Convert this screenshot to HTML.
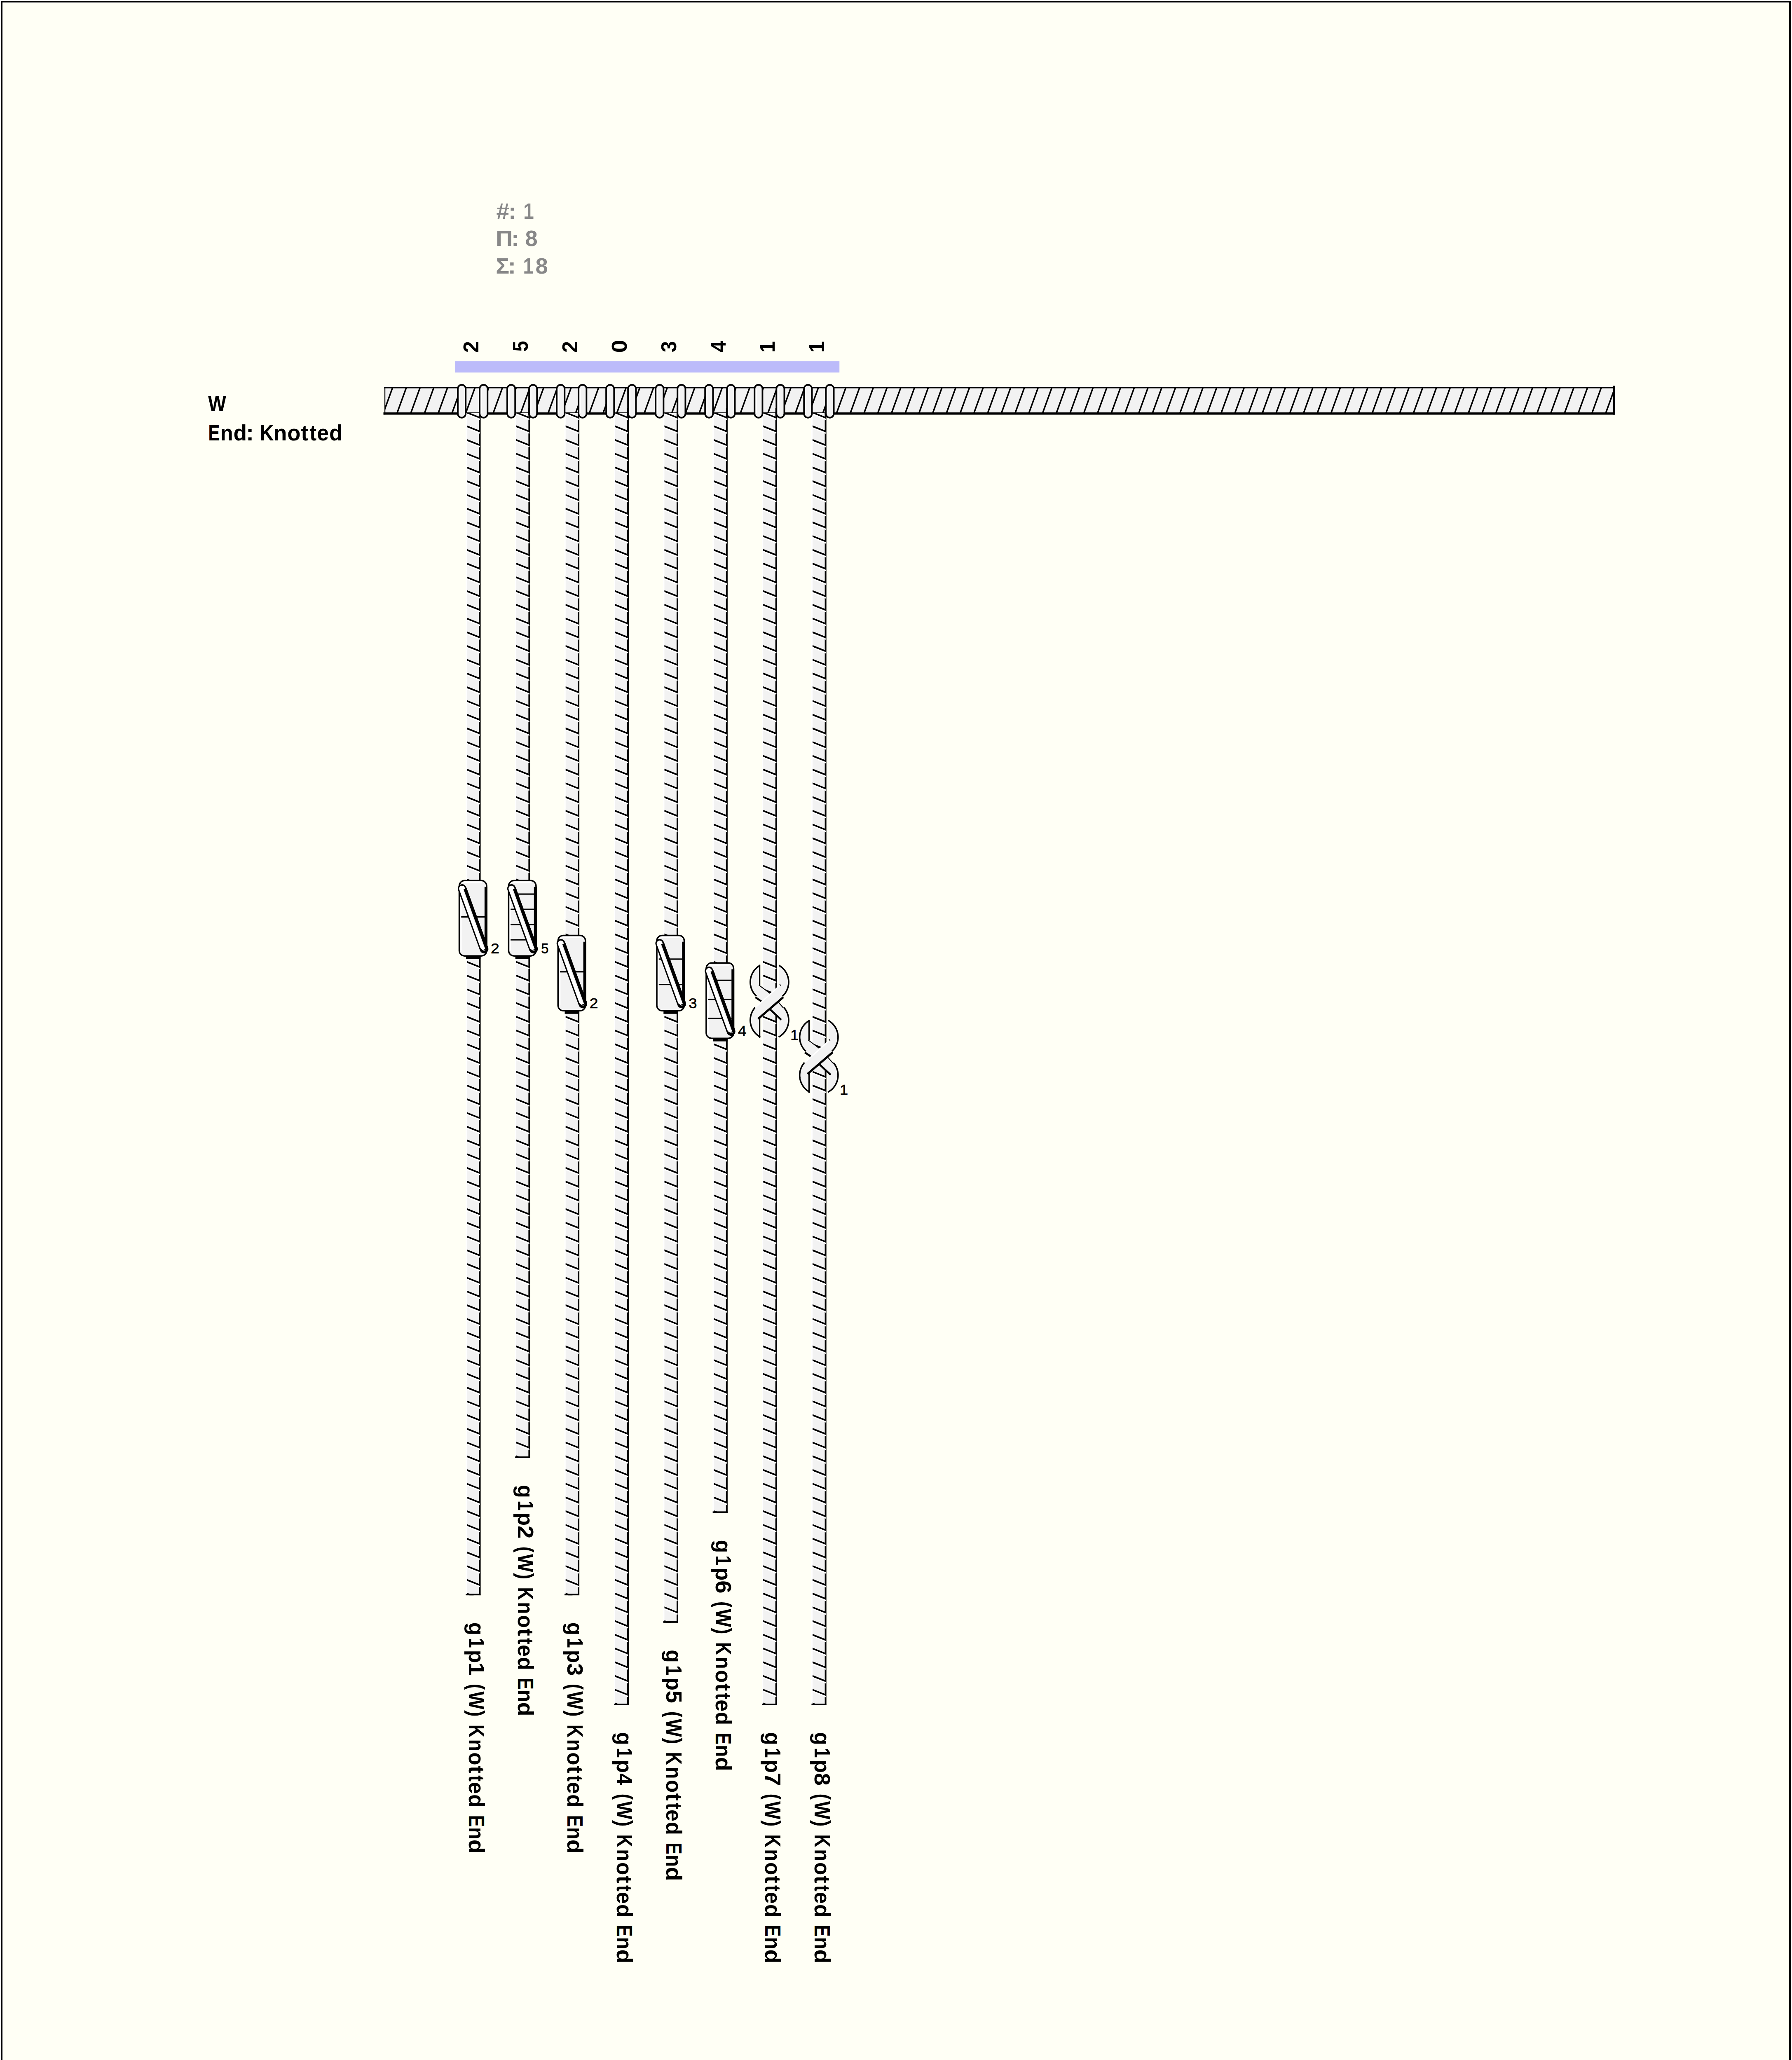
<!DOCTYPE html>
<html><head><meta charset="utf-8"><style>html,body{margin:0;padding:0;background:#fff;overflow:hidden;} svg{display:block;}</style></head>
<body><svg width="4349" height="5308" viewBox="0 0 4349 5308">
<rect x="0" y="0" width="4349" height="5308" fill="#FFFFFF"/>
<rect x="7" y="7" width="4334" height="5294" fill="#FFFFF5"/>
<rect x="4" y="4" width="4340" height="5300" fill="none" stroke="#000" stroke-width="4"/>
<g transform="translate(0,530.9)"><text transform="translate(1204.62,0) scale(1.082,1)" font-family="Liberation Sans, sans-serif" font-weight="bold" font-size="53" fill="#888888">#</text><text transform="translate(1233.87,0) scale(1.120,1)" font-family="Liberation Sans, sans-serif" font-weight="bold" font-size="53" fill="#888888">:</text><text transform="translate(1270.22,0) scale(0.864,1)" font-family="Liberation Sans, sans-serif" font-weight="bold" font-size="53" fill="#888888">1</text></g>
<g transform="translate(0,597.25)"><text transform="translate(1203.07,0) scale(1.082,1)" font-family="Liberation Sans, sans-serif" font-weight="bold" font-size="53" fill="#888888">Π</text><text transform="translate(1240.74,0) scale(1.120,1)" font-family="Liberation Sans, sans-serif" font-weight="bold" font-size="53" fill="#888888">:</text><text transform="translate(1274.52,0) scale(1.026,1)" font-family="Liberation Sans, sans-serif" font-weight="bold" font-size="53" fill="#888888">8</text></g>
<g transform="translate(0,663.75)"><text transform="translate(1203.19,0) scale(1.033,1)" font-family="Liberation Sans, sans-serif" font-weight="bold" font-size="53" fill="#888888">Σ</text><text transform="translate(1232.62,0) scale(1.120,1)" font-family="Liberation Sans, sans-serif" font-weight="bold" font-size="53" fill="#888888">:</text><text transform="translate(1269.62,0) scale(0.862,1)" font-family="Liberation Sans, sans-serif" font-weight="bold" font-size="53" fill="#888888">1</text><text transform="translate(1299.52,0) scale(1.026,1)" font-family="Liberation Sans, sans-serif" font-weight="bold" font-size="53" fill="#888888">8</text></g>
<g transform="translate(0,997.5)"><text transform="translate(504.95,0) scale(0.876,1)" font-family="Liberation Sans, sans-serif" font-weight="bold" font-size="53" fill="#000">W</text></g>
<g transform="translate(0,1068.75)"><text transform="translate(505.26,0) scale(0.800,1)" font-family="Liberation Sans, sans-serif" font-weight="bold" font-size="53" fill="#000">E</text><text transform="translate(534.77,0) scale(0.953,1)" font-family="Liberation Sans, sans-serif" font-weight="bold" font-size="53" fill="#000">n</text><text transform="translate(566.56,0) scale(1.005,1)" font-family="Liberation Sans, sans-serif" font-weight="bold" font-size="53" fill="#000">d</text><text transform="translate(596.96,0) scale(1.087,1)" font-family="Liberation Sans, sans-serif" font-weight="bold" font-size="53" fill="#000">:</text><text transform="translate(629.93,0) scale(0.895,1)" font-family="Liberation Sans, sans-serif" font-weight="bold" font-size="53" fill="#000">K</text><text transform="translate(663.32,0) scale(1.024,1)" font-family="Liberation Sans, sans-serif" font-weight="bold" font-size="53" fill="#000">n</text><text transform="translate(697.34,0) scale(0.995,1)" font-family="Liberation Sans, sans-serif" font-weight="bold" font-size="53" fill="#000">o</text><text transform="translate(730.61,0) scale(0.994,1)" font-family="Liberation Sans, sans-serif" font-weight="bold" font-size="53" fill="#000">t</text><text transform="translate(751.28,0) scale(0.954,1)" font-family="Liberation Sans, sans-serif" font-weight="bold" font-size="53" fill="#000">t</text><text transform="translate(769.23,0) scale(0.977,1)" font-family="Liberation Sans, sans-serif" font-weight="bold" font-size="53" fill="#000">e</text><text transform="translate(799.06,0) scale(1.005,1)" font-family="Liberation Sans, sans-serif" font-weight="bold" font-size="53" fill="#000">d</text></g>
<rect x="1104" y="877" width="933.25" height="27.2" fill="#BCBBFA"/>
<g transform="translate(1161.2,0) rotate(-90)"><text transform="translate(-856.00,0) scale(0.969,1)" font-family="Liberation Sans, sans-serif" font-weight="bold" font-size="52" fill="#000">2</text></g>
<g transform="translate(1281.07,0) rotate(-90)"><text transform="translate(-853.17,0) scale(0.889,1)" font-family="Liberation Sans, sans-serif" font-weight="bold" font-size="52" fill="#000">5</text></g>
<g transform="translate(1400.94,0) rotate(-90)"><text transform="translate(-856.00,0) scale(0.969,1)" font-family="Liberation Sans, sans-serif" font-weight="bold" font-size="52" fill="#000">2</text></g>
<g transform="translate(1520.81,0) rotate(-90)"><text transform="translate(-856.61,0) scale(1.100,1)" font-family="Liberation Sans, sans-serif" font-weight="bold" font-size="52" fill="#000">0</text></g>
<g transform="translate(1640.68,0) rotate(-90)"><text transform="translate(-855.13,0) scale(0.948,1)" font-family="Liberation Sans, sans-serif" font-weight="bold" font-size="52" fill="#000">3</text></g>
<g transform="translate(1760.55,0) rotate(-90)"><text transform="translate(-854.75,0) scale(0.951,1)" font-family="Liberation Sans, sans-serif" font-weight="bold" font-size="52" fill="#000">4</text></g>
<g transform="translate(1880.42,0) rotate(-90)"><text transform="translate(-855.61,0) scale(0.951,1)" font-family="Liberation Sans, sans-serif" font-weight="bold" font-size="52" fill="#000">1</text></g>
<g transform="translate(2000.29,0) rotate(-90)"><text transform="translate(-855.61,0) scale(0.951,1)" font-family="Liberation Sans, sans-serif" font-weight="bold" font-size="52" fill="#000">1</text></g>
<clipPath id="pc"><rect x="933" y="941" width="2985" height="61"/></clipPath>
<rect x="933" y="941" width="2985" height="62" fill="#F2F2F2"/>
<path clip-path="url(#pc)" d="M930.20,1003L952.70,941M963.53,1003L986.03,941M996.87,1003L1019.37,941M1030.20,1003L1052.70,941M1063.53,1003L1086.03,941M1096.87,1003L1119.37,941M1130.20,1003L1152.70,941M1163.53,1003L1186.03,941M1196.87,1003L1219.37,941M1230.20,1003L1252.70,941M1263.53,1003L1286.03,941M1296.87,1003L1319.37,941M1330.20,1003L1352.70,941M1363.53,1003L1386.03,941M1396.87,1003L1419.37,941M1430.20,1003L1452.70,941M1463.53,1003L1486.03,941M1496.87,1003L1519.37,941M1530.20,1003L1552.70,941M1563.53,1003L1586.03,941M1596.87,1003L1619.37,941M1630.20,1003L1652.70,941M1663.53,1003L1686.03,941M1696.87,1003L1719.37,941M1730.20,1003L1752.70,941M1763.53,1003L1786.03,941M1796.87,1003L1819.37,941M1830.20,1003L1852.70,941M1863.53,1003L1886.03,941M1896.87,1003L1919.37,941M1930.20,1003L1952.70,941M1963.53,1003L1986.03,941M1996.87,1003L2019.37,941M2030.20,1003L2052.70,941M2063.53,1003L2086.03,941M2096.87,1003L2119.37,941M2130.20,1003L2152.70,941M2163.53,1003L2186.03,941M2196.87,1003L2219.37,941M2230.20,1003L2252.70,941M2263.53,1003L2286.03,941M2296.87,1003L2319.37,941M2330.20,1003L2352.70,941M2363.53,1003L2386.03,941M2396.87,1003L2419.37,941M2430.20,1003L2452.70,941M2463.53,1003L2486.03,941M2496.87,1003L2519.37,941M2530.20,1003L2552.70,941M2563.53,1003L2586.03,941M2596.87,1003L2619.37,941M2630.20,1003L2652.70,941M2663.53,1003L2686.03,941M2696.87,1003L2719.37,941M2730.20,1003L2752.70,941M2763.53,1003L2786.03,941M2796.87,1003L2819.37,941M2830.20,1003L2852.70,941M2863.53,1003L2886.03,941M2896.87,1003L2919.37,941M2930.20,1003L2952.70,941M2963.53,1003L2986.03,941M2996.87,1003L3019.37,941M3030.20,1003L3052.70,941M3063.53,1003L3086.03,941M3096.87,1003L3119.37,941M3130.20,1003L3152.70,941M3163.53,1003L3186.03,941M3196.87,1003L3219.37,941M3230.20,1003L3252.70,941M3263.53,1003L3286.03,941M3296.87,1003L3319.37,941M3330.20,1003L3352.70,941M3363.53,1003L3386.03,941M3396.87,1003L3419.37,941M3430.20,1003L3452.70,941M3463.53,1003L3486.03,941M3496.87,1003L3519.37,941M3530.20,1003L3552.70,941M3563.53,1003L3586.03,941M3596.87,1003L3619.37,941M3630.20,1003L3652.70,941M3663.53,1003L3686.03,941M3696.87,1003L3719.37,941M3730.20,1003L3752.70,941M3763.53,1003L3786.03,941M3796.87,1003L3819.37,941M3830.20,1003L3852.70,941M3863.53,1003L3886.03,941M3896.87,1003L3919.37,941" stroke="#000" stroke-width="3.6" fill="none"/>
<rect x="932" y="939.4" width="2987" height="3.1" fill="#000"/>
<rect x="930.5" y="1001" width="2989.5" height="5.5" fill="#000"/>
<rect x="933" y="939.4" width="2.2" height="67" fill="#000"/>
<rect x="3915" y="936" width="5" height="70.5" fill="#000"/>
<rect x="1130.0" y="1003" width="3" height="2869.166666666667" fill="#FFFFFF"/><rect x="1133.0" y="1003" width="29.6" height="2869.166666666667" fill="#F2F2F2"/><clipPath id="cc1133"><rect x="1130.0" y="1003" width="40" height="2869.166666666667"/></clipPath><g clip-path="url(#cc1133)"><path d="M1133.00,999.20L1163.00,1011.20L1163.00,1015.30L1133.00,1003.60ZM1133.00,1032.53L1163.00,1044.53L1163.00,1048.63L1133.00,1036.93ZM1133.00,1065.87L1163.00,1077.87L1163.00,1081.97L1133.00,1070.27ZM1133.00,1099.20L1163.00,1111.20L1163.00,1115.30L1133.00,1103.60ZM1133.00,1132.53L1163.00,1144.53L1163.00,1148.63L1133.00,1136.93ZM1133.00,1165.87L1163.00,1177.87L1163.00,1181.97L1133.00,1170.27ZM1133.00,1199.20L1163.00,1211.20L1163.00,1215.30L1133.00,1203.60ZM1133.00,1232.53L1163.00,1244.53L1163.00,1248.63L1133.00,1236.93ZM1133.00,1265.87L1163.00,1277.87L1163.00,1281.97L1133.00,1270.27ZM1133.00,1299.20L1163.00,1311.20L1163.00,1315.30L1133.00,1303.60ZM1133.00,1332.53L1163.00,1344.53L1163.00,1348.63L1133.00,1336.93ZM1133.00,1365.87L1163.00,1377.87L1163.00,1381.97L1133.00,1370.27ZM1133.00,1399.20L1163.00,1411.20L1163.00,1415.30L1133.00,1403.60ZM1133.00,1432.53L1163.00,1444.53L1163.00,1448.63L1133.00,1436.93ZM1133.00,1465.87L1163.00,1477.87L1163.00,1481.97L1133.00,1470.27ZM1133.00,1499.20L1163.00,1511.20L1163.00,1515.30L1133.00,1503.60ZM1133.00,1532.53L1163.00,1544.53L1163.00,1548.63L1133.00,1536.93ZM1133.00,1565.87L1163.00,1577.87L1163.00,1581.97L1133.00,1570.27ZM1133.00,1599.20L1163.00,1611.20L1163.00,1615.30L1133.00,1603.60ZM1133.00,1632.53L1163.00,1644.53L1163.00,1648.63L1133.00,1636.93ZM1133.00,1665.87L1163.00,1677.87L1163.00,1681.97L1133.00,1670.27ZM1133.00,1699.20L1163.00,1711.20L1163.00,1715.30L1133.00,1703.60ZM1133.00,1732.53L1163.00,1744.53L1163.00,1748.63L1133.00,1736.93ZM1133.00,1765.87L1163.00,1777.87L1163.00,1781.97L1133.00,1770.27ZM1133.00,1799.20L1163.00,1811.20L1163.00,1815.30L1133.00,1803.60ZM1133.00,1832.53L1163.00,1844.53L1163.00,1848.63L1133.00,1836.93ZM1133.00,1865.87L1163.00,1877.87L1163.00,1881.97L1133.00,1870.27ZM1133.00,1899.20L1163.00,1911.20L1163.00,1915.30L1133.00,1903.60ZM1133.00,1932.53L1163.00,1944.53L1163.00,1948.63L1133.00,1936.93ZM1133.00,1965.87L1163.00,1977.87L1163.00,1981.97L1133.00,1970.27ZM1133.00,1999.20L1163.00,2011.20L1163.00,2015.30L1133.00,2003.60ZM1133.00,2032.53L1163.00,2044.53L1163.00,2048.63L1133.00,2036.93ZM1133.00,2065.87L1163.00,2077.87L1163.00,2081.97L1133.00,2070.27ZM1133.00,2099.20L1163.00,2111.20L1163.00,2115.30L1133.00,2103.60ZM1133.00,2132.53L1163.00,2144.53L1163.00,2148.63L1133.00,2136.93ZM1133.00,2165.87L1163.00,2177.87L1163.00,2181.97L1133.00,2170.27ZM1133.00,2199.20L1163.00,2211.20L1163.00,2215.30L1133.00,2203.60ZM1133.00,2232.53L1163.00,2244.53L1163.00,2248.63L1133.00,2236.93ZM1133.00,2265.87L1163.00,2277.87L1163.00,2281.97L1133.00,2270.27ZM1133.00,2299.20L1163.00,2311.20L1163.00,2315.30L1133.00,2303.60ZM1133.00,2332.53L1163.00,2344.53L1163.00,2348.63L1133.00,2336.93ZM1133.00,2365.87L1163.00,2377.87L1163.00,2381.97L1133.00,2370.27ZM1133.00,2399.20L1163.00,2411.20L1163.00,2415.30L1133.00,2403.60ZM1133.00,2432.53L1163.00,2444.53L1163.00,2448.63L1133.00,2436.93ZM1133.00,2465.87L1163.00,2477.87L1163.00,2481.97L1133.00,2470.27ZM1133.00,2499.20L1163.00,2511.20L1163.00,2515.30L1133.00,2503.60ZM1133.00,2532.53L1163.00,2544.53L1163.00,2548.63L1133.00,2536.93ZM1133.00,2565.87L1163.00,2577.87L1163.00,2581.97L1133.00,2570.27ZM1133.00,2599.20L1163.00,2611.20L1163.00,2615.30L1133.00,2603.60ZM1133.00,2632.53L1163.00,2644.53L1163.00,2648.63L1133.00,2636.93ZM1133.00,2665.87L1163.00,2677.87L1163.00,2681.97L1133.00,2670.27ZM1133.00,2699.20L1163.00,2711.20L1163.00,2715.30L1133.00,2703.60ZM1133.00,2732.53L1163.00,2744.53L1163.00,2748.63L1133.00,2736.93ZM1133.00,2765.87L1163.00,2777.87L1163.00,2781.97L1133.00,2770.27ZM1133.00,2799.20L1163.00,2811.20L1163.00,2815.30L1133.00,2803.60ZM1133.00,2832.53L1163.00,2844.53L1163.00,2848.63L1133.00,2836.93ZM1133.00,2865.87L1163.00,2877.87L1163.00,2881.97L1133.00,2870.27ZM1133.00,2899.20L1163.00,2911.20L1163.00,2915.30L1133.00,2903.60ZM1133.00,2932.53L1163.00,2944.53L1163.00,2948.63L1133.00,2936.93ZM1133.00,2965.87L1163.00,2977.87L1163.00,2981.97L1133.00,2970.27ZM1133.00,2999.20L1163.00,3011.20L1163.00,3015.30L1133.00,3003.60ZM1133.00,3032.53L1163.00,3044.53L1163.00,3048.63L1133.00,3036.93ZM1133.00,3065.87L1163.00,3077.87L1163.00,3081.97L1133.00,3070.27ZM1133.00,3099.20L1163.00,3111.20L1163.00,3115.30L1133.00,3103.60ZM1133.00,3132.53L1163.00,3144.53L1163.00,3148.63L1133.00,3136.93ZM1133.00,3165.87L1163.00,3177.87L1163.00,3181.97L1133.00,3170.27ZM1133.00,3199.20L1163.00,3211.20L1163.00,3215.30L1133.00,3203.60ZM1133.00,3232.53L1163.00,3244.53L1163.00,3248.63L1133.00,3236.93ZM1133.00,3265.87L1163.00,3277.87L1163.00,3281.97L1133.00,3270.27ZM1133.00,3299.20L1163.00,3311.20L1163.00,3315.30L1133.00,3303.60ZM1133.00,3332.53L1163.00,3344.53L1163.00,3348.63L1133.00,3336.93ZM1133.00,3365.87L1163.00,3377.87L1163.00,3381.97L1133.00,3370.27ZM1133.00,3399.20L1163.00,3411.20L1163.00,3415.30L1133.00,3403.60ZM1133.00,3432.53L1163.00,3444.53L1163.00,3448.63L1133.00,3436.93ZM1133.00,3465.87L1163.00,3477.87L1163.00,3481.97L1133.00,3470.27ZM1133.00,3499.20L1163.00,3511.20L1163.00,3515.30L1133.00,3503.60ZM1133.00,3532.53L1163.00,3544.53L1163.00,3548.63L1133.00,3536.93ZM1133.00,3565.87L1163.00,3577.87L1163.00,3581.97L1133.00,3570.27ZM1133.00,3599.20L1163.00,3611.20L1163.00,3615.30L1133.00,3603.60ZM1133.00,3632.53L1163.00,3644.53L1163.00,3648.63L1133.00,3636.93ZM1133.00,3665.87L1163.00,3677.87L1163.00,3681.97L1133.00,3670.27ZM1133.00,3699.20L1163.00,3711.20L1163.00,3715.30L1133.00,3703.60ZM1133.00,3732.53L1163.00,3744.53L1163.00,3748.63L1133.00,3736.93ZM1133.00,3765.87L1163.00,3777.87L1163.00,3781.97L1133.00,3770.27ZM1133.00,3799.20L1163.00,3811.20L1163.00,3815.30L1133.00,3803.60ZM1133.00,3832.53L1163.00,3844.53L1163.00,3848.63L1133.00,3836.93ZM1133.00,3865.87L1163.00,3877.87L1163.00,3881.97L1133.00,3870.27Z" fill="#000"/><rect x="1162.5" y="990" width="3.8" height="2882.166666666667" fill="#000"/><path d="M1133.00,1005.20L1165.10,1018.00M1133.00,1038.53L1165.10,1051.33M1133.00,1071.87L1165.10,1084.67M1133.00,1105.20L1165.10,1118.00M1133.00,1138.53L1165.10,1151.33M1133.00,1171.87L1165.10,1184.67M1133.00,1205.20L1165.10,1218.00M1133.00,1238.53L1165.10,1251.33M1133.00,1271.87L1165.10,1284.67M1133.00,1305.20L1165.10,1318.00M1133.00,1338.53L1165.10,1351.33M1133.00,1371.87L1165.10,1384.67M1133.00,1405.20L1165.10,1418.00M1133.00,1438.53L1165.10,1451.33M1133.00,1471.87L1165.10,1484.67M1133.00,1505.20L1165.10,1518.00M1133.00,1538.53L1165.10,1551.33M1133.00,1571.87L1165.10,1584.67M1133.00,1605.20L1165.10,1618.00M1133.00,1638.53L1165.10,1651.33M1133.00,1671.87L1165.10,1684.67M1133.00,1705.20L1165.10,1718.00M1133.00,1738.53L1165.10,1751.33M1133.00,1771.87L1165.10,1784.67M1133.00,1805.20L1165.10,1818.00M1133.00,1838.53L1165.10,1851.33M1133.00,1871.87L1165.10,1884.67M1133.00,1905.20L1165.10,1918.00M1133.00,1938.53L1165.10,1951.33M1133.00,1971.87L1165.10,1984.67M1133.00,2005.20L1165.10,2018.00M1133.00,2038.53L1165.10,2051.33M1133.00,2071.87L1165.10,2084.67M1133.00,2105.20L1165.10,2118.00M1133.00,2138.53L1165.10,2151.33M1133.00,2171.87L1165.10,2184.67M1133.00,2205.20L1165.10,2218.00M1133.00,2238.53L1165.10,2251.33M1133.00,2271.87L1165.10,2284.67M1133.00,2305.20L1165.10,2318.00M1133.00,2338.53L1165.10,2351.33M1133.00,2371.87L1165.10,2384.67M1133.00,2405.20L1165.10,2418.00M1133.00,2438.53L1165.10,2451.33M1133.00,2471.87L1165.10,2484.67M1133.00,2505.20L1165.10,2518.00M1133.00,2538.53L1165.10,2551.33M1133.00,2571.87L1165.10,2584.67M1133.00,2605.20L1165.10,2618.00M1133.00,2638.53L1165.10,2651.33M1133.00,2671.87L1165.10,2684.67M1133.00,2705.20L1165.10,2718.00M1133.00,2738.53L1165.10,2751.33M1133.00,2771.87L1165.10,2784.67M1133.00,2805.20L1165.10,2818.00M1133.00,2838.53L1165.10,2851.33M1133.00,2871.87L1165.10,2884.67M1133.00,2905.20L1165.10,2918.00M1133.00,2938.53L1165.10,2951.33M1133.00,2971.87L1165.10,2984.67M1133.00,3005.20L1165.10,3018.00M1133.00,3038.53L1165.10,3051.33M1133.00,3071.87L1165.10,3084.67M1133.00,3105.20L1165.10,3118.00M1133.00,3138.53L1165.10,3151.33M1133.00,3171.87L1165.10,3184.67M1133.00,3205.20L1165.10,3218.00M1133.00,3238.53L1165.10,3251.33M1133.00,3271.87L1165.10,3284.67M1133.00,3305.20L1165.10,3318.00M1133.00,3338.53L1165.10,3351.33M1133.00,3371.87L1165.10,3384.67M1133.00,3405.20L1165.10,3418.00M1133.00,3438.53L1165.10,3451.33M1133.00,3471.87L1165.10,3484.67M1133.00,3505.20L1165.10,3518.00M1133.00,3538.53L1165.10,3551.33M1133.00,3571.87L1165.10,3584.67M1133.00,3605.20L1165.10,3618.00M1133.00,3638.53L1165.10,3651.33M1133.00,3671.87L1165.10,3684.67M1133.00,3705.20L1165.10,3718.00M1133.00,3738.53L1165.10,3751.33M1133.00,3771.87L1165.10,3784.67M1133.00,3805.20L1165.10,3818.00M1133.00,3838.53L1165.10,3851.33M1133.00,3871.87L1165.10,3884.67" stroke="#FFFFFF" stroke-width="3.0" fill="none"/></g><rect x="1165.3" y="990" width="1.0" height="2882.166666666667" fill="#000"/><rect x="1162.5" y="990" width="3.8" height="14" fill="#000"/><rect x="1130.3" y="3868.366666666667" width="36.0" height="3.8" fill="#000"/>
<rect x="1249.87" y="1003" width="3" height="2535.8333333333335" fill="#FFFFFF"/><rect x="1252.87" y="1003" width="29.6" height="2535.8333333333335" fill="#F2F2F2"/><clipPath id="cc1252"><rect x="1249.87" y="1003" width="40" height="2535.8333333333335"/></clipPath><g clip-path="url(#cc1252)"><path d="M1252.87,999.20L1282.87,1011.20L1282.87,1015.30L1252.87,1003.60ZM1252.87,1032.53L1282.87,1044.53L1282.87,1048.63L1252.87,1036.93ZM1252.87,1065.87L1282.87,1077.87L1282.87,1081.97L1252.87,1070.27ZM1252.87,1099.20L1282.87,1111.20L1282.87,1115.30L1252.87,1103.60ZM1252.87,1132.53L1282.87,1144.53L1282.87,1148.63L1252.87,1136.93ZM1252.87,1165.87L1282.87,1177.87L1282.87,1181.97L1252.87,1170.27ZM1252.87,1199.20L1282.87,1211.20L1282.87,1215.30L1252.87,1203.60ZM1252.87,1232.53L1282.87,1244.53L1282.87,1248.63L1252.87,1236.93ZM1252.87,1265.87L1282.87,1277.87L1282.87,1281.97L1252.87,1270.27ZM1252.87,1299.20L1282.87,1311.20L1282.87,1315.30L1252.87,1303.60ZM1252.87,1332.53L1282.87,1344.53L1282.87,1348.63L1252.87,1336.93ZM1252.87,1365.87L1282.87,1377.87L1282.87,1381.97L1252.87,1370.27ZM1252.87,1399.20L1282.87,1411.20L1282.87,1415.30L1252.87,1403.60ZM1252.87,1432.53L1282.87,1444.53L1282.87,1448.63L1252.87,1436.93ZM1252.87,1465.87L1282.87,1477.87L1282.87,1481.97L1252.87,1470.27ZM1252.87,1499.20L1282.87,1511.20L1282.87,1515.30L1252.87,1503.60ZM1252.87,1532.53L1282.87,1544.53L1282.87,1548.63L1252.87,1536.93ZM1252.87,1565.87L1282.87,1577.87L1282.87,1581.97L1252.87,1570.27ZM1252.87,1599.20L1282.87,1611.20L1282.87,1615.30L1252.87,1603.60ZM1252.87,1632.53L1282.87,1644.53L1282.87,1648.63L1252.87,1636.93ZM1252.87,1665.87L1282.87,1677.87L1282.87,1681.97L1252.87,1670.27ZM1252.87,1699.20L1282.87,1711.20L1282.87,1715.30L1252.87,1703.60ZM1252.87,1732.53L1282.87,1744.53L1282.87,1748.63L1252.87,1736.93ZM1252.87,1765.87L1282.87,1777.87L1282.87,1781.97L1252.87,1770.27ZM1252.87,1799.20L1282.87,1811.20L1282.87,1815.30L1252.87,1803.60ZM1252.87,1832.53L1282.87,1844.53L1282.87,1848.63L1252.87,1836.93ZM1252.87,1865.87L1282.87,1877.87L1282.87,1881.97L1252.87,1870.27ZM1252.87,1899.20L1282.87,1911.20L1282.87,1915.30L1252.87,1903.60ZM1252.87,1932.53L1282.87,1944.53L1282.87,1948.63L1252.87,1936.93ZM1252.87,1965.87L1282.87,1977.87L1282.87,1981.97L1252.87,1970.27ZM1252.87,1999.20L1282.87,2011.20L1282.87,2015.30L1252.87,2003.60ZM1252.87,2032.53L1282.87,2044.53L1282.87,2048.63L1252.87,2036.93ZM1252.87,2065.87L1282.87,2077.87L1282.87,2081.97L1252.87,2070.27ZM1252.87,2099.20L1282.87,2111.20L1282.87,2115.30L1252.87,2103.60ZM1252.87,2132.53L1282.87,2144.53L1282.87,2148.63L1252.87,2136.93ZM1252.87,2165.87L1282.87,2177.87L1282.87,2181.97L1252.87,2170.27ZM1252.87,2199.20L1282.87,2211.20L1282.87,2215.30L1252.87,2203.60ZM1252.87,2232.53L1282.87,2244.53L1282.87,2248.63L1252.87,2236.93ZM1252.87,2265.87L1282.87,2277.87L1282.87,2281.97L1252.87,2270.27ZM1252.87,2299.20L1282.87,2311.20L1282.87,2315.30L1252.87,2303.60ZM1252.87,2332.53L1282.87,2344.53L1282.87,2348.63L1252.87,2336.93ZM1252.87,2365.87L1282.87,2377.87L1282.87,2381.97L1252.87,2370.27ZM1252.87,2399.20L1282.87,2411.20L1282.87,2415.30L1252.87,2403.60ZM1252.87,2432.53L1282.87,2444.53L1282.87,2448.63L1252.87,2436.93ZM1252.87,2465.87L1282.87,2477.87L1282.87,2481.97L1252.87,2470.27ZM1252.87,2499.20L1282.87,2511.20L1282.87,2515.30L1252.87,2503.60ZM1252.87,2532.53L1282.87,2544.53L1282.87,2548.63L1252.87,2536.93ZM1252.87,2565.87L1282.87,2577.87L1282.87,2581.97L1252.87,2570.27ZM1252.87,2599.20L1282.87,2611.20L1282.87,2615.30L1252.87,2603.60ZM1252.87,2632.53L1282.87,2644.53L1282.87,2648.63L1252.87,2636.93ZM1252.87,2665.87L1282.87,2677.87L1282.87,2681.97L1252.87,2670.27ZM1252.87,2699.20L1282.87,2711.20L1282.87,2715.30L1252.87,2703.60ZM1252.87,2732.53L1282.87,2744.53L1282.87,2748.63L1252.87,2736.93ZM1252.87,2765.87L1282.87,2777.87L1282.87,2781.97L1252.87,2770.27ZM1252.87,2799.20L1282.87,2811.20L1282.87,2815.30L1252.87,2803.60ZM1252.87,2832.53L1282.87,2844.53L1282.87,2848.63L1252.87,2836.93ZM1252.87,2865.87L1282.87,2877.87L1282.87,2881.97L1252.87,2870.27ZM1252.87,2899.20L1282.87,2911.20L1282.87,2915.30L1252.87,2903.60ZM1252.87,2932.53L1282.87,2944.53L1282.87,2948.63L1252.87,2936.93ZM1252.87,2965.87L1282.87,2977.87L1282.87,2981.97L1252.87,2970.27ZM1252.87,2999.20L1282.87,3011.20L1282.87,3015.30L1252.87,3003.60ZM1252.87,3032.53L1282.87,3044.53L1282.87,3048.63L1252.87,3036.93ZM1252.87,3065.87L1282.87,3077.87L1282.87,3081.97L1252.87,3070.27ZM1252.87,3099.20L1282.87,3111.20L1282.87,3115.30L1252.87,3103.60ZM1252.87,3132.53L1282.87,3144.53L1282.87,3148.63L1252.87,3136.93ZM1252.87,3165.87L1282.87,3177.87L1282.87,3181.97L1252.87,3170.27ZM1252.87,3199.20L1282.87,3211.20L1282.87,3215.30L1252.87,3203.60ZM1252.87,3232.53L1282.87,3244.53L1282.87,3248.63L1252.87,3236.93ZM1252.87,3265.87L1282.87,3277.87L1282.87,3281.97L1252.87,3270.27ZM1252.87,3299.20L1282.87,3311.20L1282.87,3315.30L1252.87,3303.60ZM1252.87,3332.53L1282.87,3344.53L1282.87,3348.63L1252.87,3336.93ZM1252.87,3365.87L1282.87,3377.87L1282.87,3381.97L1252.87,3370.27ZM1252.87,3399.20L1282.87,3411.20L1282.87,3415.30L1252.87,3403.60ZM1252.87,3432.53L1282.87,3444.53L1282.87,3448.63L1252.87,3436.93ZM1252.87,3465.87L1282.87,3477.87L1282.87,3481.97L1252.87,3470.27ZM1252.87,3499.20L1282.87,3511.20L1282.87,3515.30L1252.87,3503.60ZM1252.87,3532.53L1282.87,3544.53L1282.87,3548.63L1252.87,3536.93Z" fill="#000"/><rect x="1282.37" y="990" width="3.8" height="2548.8333333333335" fill="#000"/><path d="M1252.87,1005.20L1284.97,1018.00M1252.87,1038.53L1284.97,1051.33M1252.87,1071.87L1284.97,1084.67M1252.87,1105.20L1284.97,1118.00M1252.87,1138.53L1284.97,1151.33M1252.87,1171.87L1284.97,1184.67M1252.87,1205.20L1284.97,1218.00M1252.87,1238.53L1284.97,1251.33M1252.87,1271.87L1284.97,1284.67M1252.87,1305.20L1284.97,1318.00M1252.87,1338.53L1284.97,1351.33M1252.87,1371.87L1284.97,1384.67M1252.87,1405.20L1284.97,1418.00M1252.87,1438.53L1284.97,1451.33M1252.87,1471.87L1284.97,1484.67M1252.87,1505.20L1284.97,1518.00M1252.87,1538.53L1284.97,1551.33M1252.87,1571.87L1284.97,1584.67M1252.87,1605.20L1284.97,1618.00M1252.87,1638.53L1284.97,1651.33M1252.87,1671.87L1284.97,1684.67M1252.87,1705.20L1284.97,1718.00M1252.87,1738.53L1284.97,1751.33M1252.87,1771.87L1284.97,1784.67M1252.87,1805.20L1284.97,1818.00M1252.87,1838.53L1284.97,1851.33M1252.87,1871.87L1284.97,1884.67M1252.87,1905.20L1284.97,1918.00M1252.87,1938.53L1284.97,1951.33M1252.87,1971.87L1284.97,1984.67M1252.87,2005.20L1284.97,2018.00M1252.87,2038.53L1284.97,2051.33M1252.87,2071.87L1284.97,2084.67M1252.87,2105.20L1284.97,2118.00M1252.87,2138.53L1284.97,2151.33M1252.87,2171.87L1284.97,2184.67M1252.87,2205.20L1284.97,2218.00M1252.87,2238.53L1284.97,2251.33M1252.87,2271.87L1284.97,2284.67M1252.87,2305.20L1284.97,2318.00M1252.87,2338.53L1284.97,2351.33M1252.87,2371.87L1284.97,2384.67M1252.87,2405.20L1284.97,2418.00M1252.87,2438.53L1284.97,2451.33M1252.87,2471.87L1284.97,2484.67M1252.87,2505.20L1284.97,2518.00M1252.87,2538.53L1284.97,2551.33M1252.87,2571.87L1284.97,2584.67M1252.87,2605.20L1284.97,2618.00M1252.87,2638.53L1284.97,2651.33M1252.87,2671.87L1284.97,2684.67M1252.87,2705.20L1284.97,2718.00M1252.87,2738.53L1284.97,2751.33M1252.87,2771.87L1284.97,2784.67M1252.87,2805.20L1284.97,2818.00M1252.87,2838.53L1284.97,2851.33M1252.87,2871.87L1284.97,2884.67M1252.87,2905.20L1284.97,2918.00M1252.87,2938.53L1284.97,2951.33M1252.87,2971.87L1284.97,2984.67M1252.87,3005.20L1284.97,3018.00M1252.87,3038.53L1284.97,3051.33M1252.87,3071.87L1284.97,3084.67M1252.87,3105.20L1284.97,3118.00M1252.87,3138.53L1284.97,3151.33M1252.87,3171.87L1284.97,3184.67M1252.87,3205.20L1284.97,3218.00M1252.87,3238.53L1284.97,3251.33M1252.87,3271.87L1284.97,3284.67M1252.87,3305.20L1284.97,3318.00M1252.87,3338.53L1284.97,3351.33M1252.87,3371.87L1284.97,3384.67M1252.87,3405.20L1284.97,3418.00M1252.87,3438.53L1284.97,3451.33M1252.87,3471.87L1284.97,3484.67M1252.87,3505.20L1284.97,3518.00M1252.87,3538.53L1284.97,3551.33" stroke="#FFFFFF" stroke-width="3.0" fill="none"/></g><rect x="1285.1699999999998" y="990" width="1.0" height="2548.8333333333335" fill="#000"/><rect x="1282.37" y="990" width="3.8" height="14" fill="#000"/><rect x="1250.1699999999998" y="3535.0333333333333" width="36.0" height="3.8" fill="#000"/>
<rect x="1369.74" y="1003" width="3" height="2869.166666666667" fill="#FFFFFF"/><rect x="1372.74" y="1003" width="29.6" height="2869.166666666667" fill="#F2F2F2"/><clipPath id="cc1372"><rect x="1369.74" y="1003" width="40" height="2869.166666666667"/></clipPath><g clip-path="url(#cc1372)"><path d="M1372.74,999.20L1402.74,1011.20L1402.74,1015.30L1372.74,1003.60ZM1372.74,1032.53L1402.74,1044.53L1402.74,1048.63L1372.74,1036.93ZM1372.74,1065.87L1402.74,1077.87L1402.74,1081.97L1372.74,1070.27ZM1372.74,1099.20L1402.74,1111.20L1402.74,1115.30L1372.74,1103.60ZM1372.74,1132.53L1402.74,1144.53L1402.74,1148.63L1372.74,1136.93ZM1372.74,1165.87L1402.74,1177.87L1402.74,1181.97L1372.74,1170.27ZM1372.74,1199.20L1402.74,1211.20L1402.74,1215.30L1372.74,1203.60ZM1372.74,1232.53L1402.74,1244.53L1402.74,1248.63L1372.74,1236.93ZM1372.74,1265.87L1402.74,1277.87L1402.74,1281.97L1372.74,1270.27ZM1372.74,1299.20L1402.74,1311.20L1402.74,1315.30L1372.74,1303.60ZM1372.74,1332.53L1402.74,1344.53L1402.74,1348.63L1372.74,1336.93ZM1372.74,1365.87L1402.74,1377.87L1402.74,1381.97L1372.74,1370.27ZM1372.74,1399.20L1402.74,1411.20L1402.74,1415.30L1372.74,1403.60ZM1372.74,1432.53L1402.74,1444.53L1402.74,1448.63L1372.74,1436.93ZM1372.74,1465.87L1402.74,1477.87L1402.74,1481.97L1372.74,1470.27ZM1372.74,1499.20L1402.74,1511.20L1402.74,1515.30L1372.74,1503.60ZM1372.74,1532.53L1402.74,1544.53L1402.74,1548.63L1372.74,1536.93ZM1372.74,1565.87L1402.74,1577.87L1402.74,1581.97L1372.74,1570.27ZM1372.74,1599.20L1402.74,1611.20L1402.74,1615.30L1372.74,1603.60ZM1372.74,1632.53L1402.74,1644.53L1402.74,1648.63L1372.74,1636.93ZM1372.74,1665.87L1402.74,1677.87L1402.74,1681.97L1372.74,1670.27ZM1372.74,1699.20L1402.74,1711.20L1402.74,1715.30L1372.74,1703.60ZM1372.74,1732.53L1402.74,1744.53L1402.74,1748.63L1372.74,1736.93ZM1372.74,1765.87L1402.74,1777.87L1402.74,1781.97L1372.74,1770.27ZM1372.74,1799.20L1402.74,1811.20L1402.74,1815.30L1372.74,1803.60ZM1372.74,1832.53L1402.74,1844.53L1402.74,1848.63L1372.74,1836.93ZM1372.74,1865.87L1402.74,1877.87L1402.74,1881.97L1372.74,1870.27ZM1372.74,1899.20L1402.74,1911.20L1402.74,1915.30L1372.74,1903.60ZM1372.74,1932.53L1402.74,1944.53L1402.74,1948.63L1372.74,1936.93ZM1372.74,1965.87L1402.74,1977.87L1402.74,1981.97L1372.74,1970.27ZM1372.74,1999.20L1402.74,2011.20L1402.74,2015.30L1372.74,2003.60ZM1372.74,2032.53L1402.74,2044.53L1402.74,2048.63L1372.74,2036.93ZM1372.74,2065.87L1402.74,2077.87L1402.74,2081.97L1372.74,2070.27ZM1372.74,2099.20L1402.74,2111.20L1402.74,2115.30L1372.74,2103.60ZM1372.74,2132.53L1402.74,2144.53L1402.74,2148.63L1372.74,2136.93ZM1372.74,2165.87L1402.74,2177.87L1402.74,2181.97L1372.74,2170.27ZM1372.74,2199.20L1402.74,2211.20L1402.74,2215.30L1372.74,2203.60ZM1372.74,2232.53L1402.74,2244.53L1402.74,2248.63L1372.74,2236.93ZM1372.74,2265.87L1402.74,2277.87L1402.74,2281.97L1372.74,2270.27ZM1372.74,2299.20L1402.74,2311.20L1402.74,2315.30L1372.74,2303.60ZM1372.74,2332.53L1402.74,2344.53L1402.74,2348.63L1372.74,2336.93ZM1372.74,2365.87L1402.74,2377.87L1402.74,2381.97L1372.74,2370.27ZM1372.74,2399.20L1402.74,2411.20L1402.74,2415.30L1372.74,2403.60ZM1372.74,2432.53L1402.74,2444.53L1402.74,2448.63L1372.74,2436.93ZM1372.74,2465.87L1402.74,2477.87L1402.74,2481.97L1372.74,2470.27ZM1372.74,2499.20L1402.74,2511.20L1402.74,2515.30L1372.74,2503.60ZM1372.74,2532.53L1402.74,2544.53L1402.74,2548.63L1372.74,2536.93ZM1372.74,2565.87L1402.74,2577.87L1402.74,2581.97L1372.74,2570.27ZM1372.74,2599.20L1402.74,2611.20L1402.74,2615.30L1372.74,2603.60ZM1372.74,2632.53L1402.74,2644.53L1402.74,2648.63L1372.74,2636.93ZM1372.74,2665.87L1402.74,2677.87L1402.74,2681.97L1372.74,2670.27ZM1372.74,2699.20L1402.74,2711.20L1402.74,2715.30L1372.74,2703.60ZM1372.74,2732.53L1402.74,2744.53L1402.74,2748.63L1372.74,2736.93ZM1372.74,2765.87L1402.74,2777.87L1402.74,2781.97L1372.74,2770.27ZM1372.74,2799.20L1402.74,2811.20L1402.74,2815.30L1372.74,2803.60ZM1372.74,2832.53L1402.74,2844.53L1402.74,2848.63L1372.74,2836.93ZM1372.74,2865.87L1402.74,2877.87L1402.74,2881.97L1372.74,2870.27ZM1372.74,2899.20L1402.74,2911.20L1402.74,2915.30L1372.74,2903.60ZM1372.74,2932.53L1402.74,2944.53L1402.74,2948.63L1372.74,2936.93ZM1372.74,2965.87L1402.74,2977.87L1402.74,2981.97L1372.74,2970.27ZM1372.74,2999.20L1402.74,3011.20L1402.74,3015.30L1372.74,3003.60ZM1372.74,3032.53L1402.74,3044.53L1402.74,3048.63L1372.74,3036.93ZM1372.74,3065.87L1402.74,3077.87L1402.74,3081.97L1372.74,3070.27ZM1372.74,3099.20L1402.74,3111.20L1402.74,3115.30L1372.74,3103.60ZM1372.74,3132.53L1402.74,3144.53L1402.74,3148.63L1372.74,3136.93ZM1372.74,3165.87L1402.74,3177.87L1402.74,3181.97L1372.74,3170.27ZM1372.74,3199.20L1402.74,3211.20L1402.74,3215.30L1372.74,3203.60ZM1372.74,3232.53L1402.74,3244.53L1402.74,3248.63L1372.74,3236.93ZM1372.74,3265.87L1402.74,3277.87L1402.74,3281.97L1372.74,3270.27ZM1372.74,3299.20L1402.74,3311.20L1402.74,3315.30L1372.74,3303.60ZM1372.74,3332.53L1402.74,3344.53L1402.74,3348.63L1372.74,3336.93ZM1372.74,3365.87L1402.74,3377.87L1402.74,3381.97L1372.74,3370.27ZM1372.74,3399.20L1402.74,3411.20L1402.74,3415.30L1372.74,3403.60ZM1372.74,3432.53L1402.74,3444.53L1402.74,3448.63L1372.74,3436.93ZM1372.74,3465.87L1402.74,3477.87L1402.74,3481.97L1372.74,3470.27ZM1372.74,3499.20L1402.74,3511.20L1402.74,3515.30L1372.74,3503.60ZM1372.74,3532.53L1402.74,3544.53L1402.74,3548.63L1372.74,3536.93ZM1372.74,3565.87L1402.74,3577.87L1402.74,3581.97L1372.74,3570.27ZM1372.74,3599.20L1402.74,3611.20L1402.74,3615.30L1372.74,3603.60ZM1372.74,3632.53L1402.74,3644.53L1402.74,3648.63L1372.74,3636.93ZM1372.74,3665.87L1402.74,3677.87L1402.74,3681.97L1372.74,3670.27ZM1372.74,3699.20L1402.74,3711.20L1402.74,3715.30L1372.74,3703.60ZM1372.74,3732.53L1402.74,3744.53L1402.74,3748.63L1372.74,3736.93ZM1372.74,3765.87L1402.74,3777.87L1402.74,3781.97L1372.74,3770.27ZM1372.74,3799.20L1402.74,3811.20L1402.74,3815.30L1372.74,3803.60ZM1372.74,3832.53L1402.74,3844.53L1402.74,3848.63L1372.74,3836.93ZM1372.74,3865.87L1402.74,3877.87L1402.74,3881.97L1372.74,3870.27Z" fill="#000"/><rect x="1402.24" y="990" width="3.8" height="2882.166666666667" fill="#000"/><path d="M1372.74,1005.20L1404.84,1018.00M1372.74,1038.53L1404.84,1051.33M1372.74,1071.87L1404.84,1084.67M1372.74,1105.20L1404.84,1118.00M1372.74,1138.53L1404.84,1151.33M1372.74,1171.87L1404.84,1184.67M1372.74,1205.20L1404.84,1218.00M1372.74,1238.53L1404.84,1251.33M1372.74,1271.87L1404.84,1284.67M1372.74,1305.20L1404.84,1318.00M1372.74,1338.53L1404.84,1351.33M1372.74,1371.87L1404.84,1384.67M1372.74,1405.20L1404.84,1418.00M1372.74,1438.53L1404.84,1451.33M1372.74,1471.87L1404.84,1484.67M1372.74,1505.20L1404.84,1518.00M1372.74,1538.53L1404.84,1551.33M1372.74,1571.87L1404.84,1584.67M1372.74,1605.20L1404.84,1618.00M1372.74,1638.53L1404.84,1651.33M1372.74,1671.87L1404.84,1684.67M1372.74,1705.20L1404.84,1718.00M1372.74,1738.53L1404.84,1751.33M1372.74,1771.87L1404.84,1784.67M1372.74,1805.20L1404.84,1818.00M1372.74,1838.53L1404.84,1851.33M1372.74,1871.87L1404.84,1884.67M1372.74,1905.20L1404.84,1918.00M1372.74,1938.53L1404.84,1951.33M1372.74,1971.87L1404.84,1984.67M1372.74,2005.20L1404.84,2018.00M1372.74,2038.53L1404.84,2051.33M1372.74,2071.87L1404.84,2084.67M1372.74,2105.20L1404.84,2118.00M1372.74,2138.53L1404.84,2151.33M1372.74,2171.87L1404.84,2184.67M1372.74,2205.20L1404.84,2218.00M1372.74,2238.53L1404.84,2251.33M1372.74,2271.87L1404.84,2284.67M1372.74,2305.20L1404.84,2318.00M1372.74,2338.53L1404.84,2351.33M1372.74,2371.87L1404.84,2384.67M1372.74,2405.20L1404.84,2418.00M1372.74,2438.53L1404.84,2451.33M1372.74,2471.87L1404.84,2484.67M1372.74,2505.20L1404.84,2518.00M1372.74,2538.53L1404.84,2551.33M1372.74,2571.87L1404.84,2584.67M1372.74,2605.20L1404.84,2618.00M1372.74,2638.53L1404.84,2651.33M1372.74,2671.87L1404.84,2684.67M1372.74,2705.20L1404.84,2718.00M1372.74,2738.53L1404.84,2751.33M1372.74,2771.87L1404.84,2784.67M1372.74,2805.20L1404.84,2818.00M1372.74,2838.53L1404.84,2851.33M1372.74,2871.87L1404.84,2884.67M1372.74,2905.20L1404.84,2918.00M1372.74,2938.53L1404.84,2951.33M1372.74,2971.87L1404.84,2984.67M1372.74,3005.20L1404.84,3018.00M1372.74,3038.53L1404.84,3051.33M1372.74,3071.87L1404.84,3084.67M1372.74,3105.20L1404.84,3118.00M1372.74,3138.53L1404.84,3151.33M1372.74,3171.87L1404.84,3184.67M1372.74,3205.20L1404.84,3218.00M1372.74,3238.53L1404.84,3251.33M1372.74,3271.87L1404.84,3284.67M1372.74,3305.20L1404.84,3318.00M1372.74,3338.53L1404.84,3351.33M1372.74,3371.87L1404.84,3384.67M1372.74,3405.20L1404.84,3418.00M1372.74,3438.53L1404.84,3451.33M1372.74,3471.87L1404.84,3484.67M1372.74,3505.20L1404.84,3518.00M1372.74,3538.53L1404.84,3551.33M1372.74,3571.87L1404.84,3584.67M1372.74,3605.20L1404.84,3618.00M1372.74,3638.53L1404.84,3651.33M1372.74,3671.87L1404.84,3684.67M1372.74,3705.20L1404.84,3718.00M1372.74,3738.53L1404.84,3751.33M1372.74,3771.87L1404.84,3784.67M1372.74,3805.20L1404.84,3818.00M1372.74,3838.53L1404.84,3851.33M1372.74,3871.87L1404.84,3884.67" stroke="#FFFFFF" stroke-width="3.0" fill="none"/></g><rect x="1405.04" y="990" width="1.0" height="2882.166666666667" fill="#000"/><rect x="1402.24" y="990" width="3.8" height="14" fill="#000"/><rect x="1370.04" y="3868.366666666667" width="36.0" height="3.8" fill="#000"/>
<rect x="1489.61" y="1003" width="3" height="3135.833333333334" fill="#FFFFFF"/><rect x="1492.61" y="1003" width="29.6" height="3135.833333333334" fill="#F2F2F2"/><clipPath id="cc1492"><rect x="1489.61" y="1003" width="40" height="3135.833333333334"/></clipPath><g clip-path="url(#cc1492)"><path d="M1492.61,999.20L1522.61,1011.20L1522.61,1015.30L1492.61,1003.60ZM1492.61,1032.53L1522.61,1044.53L1522.61,1048.63L1492.61,1036.93ZM1492.61,1065.87L1522.61,1077.87L1522.61,1081.97L1492.61,1070.27ZM1492.61,1099.20L1522.61,1111.20L1522.61,1115.30L1492.61,1103.60ZM1492.61,1132.53L1522.61,1144.53L1522.61,1148.63L1492.61,1136.93ZM1492.61,1165.87L1522.61,1177.87L1522.61,1181.97L1492.61,1170.27ZM1492.61,1199.20L1522.61,1211.20L1522.61,1215.30L1492.61,1203.60ZM1492.61,1232.53L1522.61,1244.53L1522.61,1248.63L1492.61,1236.93ZM1492.61,1265.87L1522.61,1277.87L1522.61,1281.97L1492.61,1270.27ZM1492.61,1299.20L1522.61,1311.20L1522.61,1315.30L1492.61,1303.60ZM1492.61,1332.53L1522.61,1344.53L1522.61,1348.63L1492.61,1336.93ZM1492.61,1365.87L1522.61,1377.87L1522.61,1381.97L1492.61,1370.27ZM1492.61,1399.20L1522.61,1411.20L1522.61,1415.30L1492.61,1403.60ZM1492.61,1432.53L1522.61,1444.53L1522.61,1448.63L1492.61,1436.93ZM1492.61,1465.87L1522.61,1477.87L1522.61,1481.97L1492.61,1470.27ZM1492.61,1499.20L1522.61,1511.20L1522.61,1515.30L1492.61,1503.60ZM1492.61,1532.53L1522.61,1544.53L1522.61,1548.63L1492.61,1536.93ZM1492.61,1565.87L1522.61,1577.87L1522.61,1581.97L1492.61,1570.27ZM1492.61,1599.20L1522.61,1611.20L1522.61,1615.30L1492.61,1603.60ZM1492.61,1632.53L1522.61,1644.53L1522.61,1648.63L1492.61,1636.93ZM1492.61,1665.87L1522.61,1677.87L1522.61,1681.97L1492.61,1670.27ZM1492.61,1699.20L1522.61,1711.20L1522.61,1715.30L1492.61,1703.60ZM1492.61,1732.53L1522.61,1744.53L1522.61,1748.63L1492.61,1736.93ZM1492.61,1765.87L1522.61,1777.87L1522.61,1781.97L1492.61,1770.27ZM1492.61,1799.20L1522.61,1811.20L1522.61,1815.30L1492.61,1803.60ZM1492.61,1832.53L1522.61,1844.53L1522.61,1848.63L1492.61,1836.93ZM1492.61,1865.87L1522.61,1877.87L1522.61,1881.97L1492.61,1870.27ZM1492.61,1899.20L1522.61,1911.20L1522.61,1915.30L1492.61,1903.60ZM1492.61,1932.53L1522.61,1944.53L1522.61,1948.63L1492.61,1936.93ZM1492.61,1965.87L1522.61,1977.87L1522.61,1981.97L1492.61,1970.27ZM1492.61,1999.20L1522.61,2011.20L1522.61,2015.30L1492.61,2003.60ZM1492.61,2032.53L1522.61,2044.53L1522.61,2048.63L1492.61,2036.93ZM1492.61,2065.87L1522.61,2077.87L1522.61,2081.97L1492.61,2070.27ZM1492.61,2099.20L1522.61,2111.20L1522.61,2115.30L1492.61,2103.60ZM1492.61,2132.53L1522.61,2144.53L1522.61,2148.63L1492.61,2136.93ZM1492.61,2165.87L1522.61,2177.87L1522.61,2181.97L1492.61,2170.27ZM1492.61,2199.20L1522.61,2211.20L1522.61,2215.30L1492.61,2203.60ZM1492.61,2232.53L1522.61,2244.53L1522.61,2248.63L1492.61,2236.93ZM1492.61,2265.87L1522.61,2277.87L1522.61,2281.97L1492.61,2270.27ZM1492.61,2299.20L1522.61,2311.20L1522.61,2315.30L1492.61,2303.60ZM1492.61,2332.53L1522.61,2344.53L1522.61,2348.63L1492.61,2336.93ZM1492.61,2365.87L1522.61,2377.87L1522.61,2381.97L1492.61,2370.27ZM1492.61,2399.20L1522.61,2411.20L1522.61,2415.30L1492.61,2403.60ZM1492.61,2432.53L1522.61,2444.53L1522.61,2448.63L1492.61,2436.93ZM1492.61,2465.87L1522.61,2477.87L1522.61,2481.97L1492.61,2470.27ZM1492.61,2499.20L1522.61,2511.20L1522.61,2515.30L1492.61,2503.60ZM1492.61,2532.53L1522.61,2544.53L1522.61,2548.63L1492.61,2536.93ZM1492.61,2565.87L1522.61,2577.87L1522.61,2581.97L1492.61,2570.27ZM1492.61,2599.20L1522.61,2611.20L1522.61,2615.30L1492.61,2603.60ZM1492.61,2632.53L1522.61,2644.53L1522.61,2648.63L1492.61,2636.93ZM1492.61,2665.87L1522.61,2677.87L1522.61,2681.97L1492.61,2670.27ZM1492.61,2699.20L1522.61,2711.20L1522.61,2715.30L1492.61,2703.60ZM1492.61,2732.53L1522.61,2744.53L1522.61,2748.63L1492.61,2736.93ZM1492.61,2765.87L1522.61,2777.87L1522.61,2781.97L1492.61,2770.27ZM1492.61,2799.20L1522.61,2811.20L1522.61,2815.30L1492.61,2803.60ZM1492.61,2832.53L1522.61,2844.53L1522.61,2848.63L1492.61,2836.93ZM1492.61,2865.87L1522.61,2877.87L1522.61,2881.97L1492.61,2870.27ZM1492.61,2899.20L1522.61,2911.20L1522.61,2915.30L1492.61,2903.60ZM1492.61,2932.53L1522.61,2944.53L1522.61,2948.63L1492.61,2936.93ZM1492.61,2965.87L1522.61,2977.87L1522.61,2981.97L1492.61,2970.27ZM1492.61,2999.20L1522.61,3011.20L1522.61,3015.30L1492.61,3003.60ZM1492.61,3032.53L1522.61,3044.53L1522.61,3048.63L1492.61,3036.93ZM1492.61,3065.87L1522.61,3077.87L1522.61,3081.97L1492.61,3070.27ZM1492.61,3099.20L1522.61,3111.20L1522.61,3115.30L1492.61,3103.60ZM1492.61,3132.53L1522.61,3144.53L1522.61,3148.63L1492.61,3136.93ZM1492.61,3165.87L1522.61,3177.87L1522.61,3181.97L1492.61,3170.27ZM1492.61,3199.20L1522.61,3211.20L1522.61,3215.30L1492.61,3203.60ZM1492.61,3232.53L1522.61,3244.53L1522.61,3248.63L1492.61,3236.93ZM1492.61,3265.87L1522.61,3277.87L1522.61,3281.97L1492.61,3270.27ZM1492.61,3299.20L1522.61,3311.20L1522.61,3315.30L1492.61,3303.60ZM1492.61,3332.53L1522.61,3344.53L1522.61,3348.63L1492.61,3336.93ZM1492.61,3365.87L1522.61,3377.87L1522.61,3381.97L1492.61,3370.27ZM1492.61,3399.20L1522.61,3411.20L1522.61,3415.30L1492.61,3403.60ZM1492.61,3432.53L1522.61,3444.53L1522.61,3448.63L1492.61,3436.93ZM1492.61,3465.87L1522.61,3477.87L1522.61,3481.97L1492.61,3470.27ZM1492.61,3499.20L1522.61,3511.20L1522.61,3515.30L1492.61,3503.60ZM1492.61,3532.53L1522.61,3544.53L1522.61,3548.63L1492.61,3536.93ZM1492.61,3565.87L1522.61,3577.87L1522.61,3581.97L1492.61,3570.27ZM1492.61,3599.20L1522.61,3611.20L1522.61,3615.30L1492.61,3603.60ZM1492.61,3632.53L1522.61,3644.53L1522.61,3648.63L1492.61,3636.93ZM1492.61,3665.87L1522.61,3677.87L1522.61,3681.97L1492.61,3670.27ZM1492.61,3699.20L1522.61,3711.20L1522.61,3715.30L1492.61,3703.60ZM1492.61,3732.53L1522.61,3744.53L1522.61,3748.63L1492.61,3736.93ZM1492.61,3765.87L1522.61,3777.87L1522.61,3781.97L1492.61,3770.27ZM1492.61,3799.20L1522.61,3811.20L1522.61,3815.30L1492.61,3803.60ZM1492.61,3832.53L1522.61,3844.53L1522.61,3848.63L1492.61,3836.93ZM1492.61,3865.87L1522.61,3877.87L1522.61,3881.97L1492.61,3870.27ZM1492.61,3899.20L1522.61,3911.20L1522.61,3915.30L1492.61,3903.60ZM1492.61,3932.53L1522.61,3944.53L1522.61,3948.63L1492.61,3936.93ZM1492.61,3965.87L1522.61,3977.87L1522.61,3981.97L1492.61,3970.27ZM1492.61,3999.20L1522.61,4011.20L1522.61,4015.30L1492.61,4003.60ZM1492.61,4032.53L1522.61,4044.53L1522.61,4048.63L1492.61,4036.93ZM1492.61,4065.87L1522.61,4077.87L1522.61,4081.97L1492.61,4070.27ZM1492.61,4099.20L1522.61,4111.20L1522.61,4115.30L1492.61,4103.60ZM1492.61,4132.53L1522.61,4144.53L1522.61,4148.63L1492.61,4136.93Z" fill="#000"/><rect x="1522.11" y="990" width="3.8" height="3148.833333333334" fill="#000"/><path d="M1492.61,1005.20L1524.71,1018.00M1492.61,1038.53L1524.71,1051.33M1492.61,1071.87L1524.71,1084.67M1492.61,1105.20L1524.71,1118.00M1492.61,1138.53L1524.71,1151.33M1492.61,1171.87L1524.71,1184.67M1492.61,1205.20L1524.71,1218.00M1492.61,1238.53L1524.71,1251.33M1492.61,1271.87L1524.71,1284.67M1492.61,1305.20L1524.71,1318.00M1492.61,1338.53L1524.71,1351.33M1492.61,1371.87L1524.71,1384.67M1492.61,1405.20L1524.71,1418.00M1492.61,1438.53L1524.71,1451.33M1492.61,1471.87L1524.71,1484.67M1492.61,1505.20L1524.71,1518.00M1492.61,1538.53L1524.71,1551.33M1492.61,1571.87L1524.71,1584.67M1492.61,1605.20L1524.71,1618.00M1492.61,1638.53L1524.71,1651.33M1492.61,1671.87L1524.71,1684.67M1492.61,1705.20L1524.71,1718.00M1492.61,1738.53L1524.71,1751.33M1492.61,1771.87L1524.71,1784.67M1492.61,1805.20L1524.71,1818.00M1492.61,1838.53L1524.71,1851.33M1492.61,1871.87L1524.71,1884.67M1492.61,1905.20L1524.71,1918.00M1492.61,1938.53L1524.71,1951.33M1492.61,1971.87L1524.71,1984.67M1492.61,2005.20L1524.71,2018.00M1492.61,2038.53L1524.71,2051.33M1492.61,2071.87L1524.71,2084.67M1492.61,2105.20L1524.71,2118.00M1492.61,2138.53L1524.71,2151.33M1492.61,2171.87L1524.71,2184.67M1492.61,2205.20L1524.71,2218.00M1492.61,2238.53L1524.71,2251.33M1492.61,2271.87L1524.71,2284.67M1492.61,2305.20L1524.71,2318.00M1492.61,2338.53L1524.71,2351.33M1492.61,2371.87L1524.71,2384.67M1492.61,2405.20L1524.71,2418.00M1492.61,2438.53L1524.71,2451.33M1492.61,2471.87L1524.71,2484.67M1492.61,2505.20L1524.71,2518.00M1492.61,2538.53L1524.71,2551.33M1492.61,2571.87L1524.71,2584.67M1492.61,2605.20L1524.71,2618.00M1492.61,2638.53L1524.71,2651.33M1492.61,2671.87L1524.71,2684.67M1492.61,2705.20L1524.71,2718.00M1492.61,2738.53L1524.71,2751.33M1492.61,2771.87L1524.71,2784.67M1492.61,2805.20L1524.71,2818.00M1492.61,2838.53L1524.71,2851.33M1492.61,2871.87L1524.71,2884.67M1492.61,2905.20L1524.71,2918.00M1492.61,2938.53L1524.71,2951.33M1492.61,2971.87L1524.71,2984.67M1492.61,3005.20L1524.71,3018.00M1492.61,3038.53L1524.71,3051.33M1492.61,3071.87L1524.71,3084.67M1492.61,3105.20L1524.71,3118.00M1492.61,3138.53L1524.71,3151.33M1492.61,3171.87L1524.71,3184.67M1492.61,3205.20L1524.71,3218.00M1492.61,3238.53L1524.71,3251.33M1492.61,3271.87L1524.71,3284.67M1492.61,3305.20L1524.71,3318.00M1492.61,3338.53L1524.71,3351.33M1492.61,3371.87L1524.71,3384.67M1492.61,3405.20L1524.71,3418.00M1492.61,3438.53L1524.71,3451.33M1492.61,3471.87L1524.71,3484.67M1492.61,3505.20L1524.71,3518.00M1492.61,3538.53L1524.71,3551.33M1492.61,3571.87L1524.71,3584.67M1492.61,3605.20L1524.71,3618.00M1492.61,3638.53L1524.71,3651.33M1492.61,3671.87L1524.71,3684.67M1492.61,3705.20L1524.71,3718.00M1492.61,3738.53L1524.71,3751.33M1492.61,3771.87L1524.71,3784.67M1492.61,3805.20L1524.71,3818.00M1492.61,3838.53L1524.71,3851.33M1492.61,3871.87L1524.71,3884.67M1492.61,3905.20L1524.71,3918.00M1492.61,3938.53L1524.71,3951.33M1492.61,3971.87L1524.71,3984.67M1492.61,4005.20L1524.71,4018.00M1492.61,4038.53L1524.71,4051.33M1492.61,4071.87L1524.71,4084.67M1492.61,4105.20L1524.71,4118.00M1492.61,4138.53L1524.71,4151.33" stroke="#FFFFFF" stroke-width="3.0" fill="none"/></g><rect x="1524.9099999999999" y="990" width="1.0" height="3148.833333333334" fill="#000"/><rect x="1522.11" y="990" width="3.8" height="14" fill="#000"/><rect x="1489.9099999999999" y="4135.033333333334" width="36.0" height="3.8" fill="#000"/>
<rect x="1609.48" y="1003" width="3" height="2935.8333333333335" fill="#FFFFFF"/><rect x="1612.48" y="1003" width="29.6" height="2935.8333333333335" fill="#F2F2F2"/><clipPath id="cc1612"><rect x="1609.48" y="1003" width="40" height="2935.8333333333335"/></clipPath><g clip-path="url(#cc1612)"><path d="M1612.48,999.20L1642.48,1011.20L1642.48,1015.30L1612.48,1003.60ZM1612.48,1032.53L1642.48,1044.53L1642.48,1048.63L1612.48,1036.93ZM1612.48,1065.87L1642.48,1077.87L1642.48,1081.97L1612.48,1070.27ZM1612.48,1099.20L1642.48,1111.20L1642.48,1115.30L1612.48,1103.60ZM1612.48,1132.53L1642.48,1144.53L1642.48,1148.63L1612.48,1136.93ZM1612.48,1165.87L1642.48,1177.87L1642.48,1181.97L1612.48,1170.27ZM1612.48,1199.20L1642.48,1211.20L1642.48,1215.30L1612.48,1203.60ZM1612.48,1232.53L1642.48,1244.53L1642.48,1248.63L1612.48,1236.93ZM1612.48,1265.87L1642.48,1277.87L1642.48,1281.97L1612.48,1270.27ZM1612.48,1299.20L1642.48,1311.20L1642.48,1315.30L1612.48,1303.60ZM1612.48,1332.53L1642.48,1344.53L1642.48,1348.63L1612.48,1336.93ZM1612.48,1365.87L1642.48,1377.87L1642.48,1381.97L1612.48,1370.27ZM1612.48,1399.20L1642.48,1411.20L1642.48,1415.30L1612.48,1403.60ZM1612.48,1432.53L1642.48,1444.53L1642.48,1448.63L1612.48,1436.93ZM1612.48,1465.87L1642.48,1477.87L1642.48,1481.97L1612.48,1470.27ZM1612.48,1499.20L1642.48,1511.20L1642.48,1515.30L1612.48,1503.60ZM1612.48,1532.53L1642.48,1544.53L1642.48,1548.63L1612.48,1536.93ZM1612.48,1565.87L1642.48,1577.87L1642.48,1581.97L1612.48,1570.27ZM1612.48,1599.20L1642.48,1611.20L1642.48,1615.30L1612.48,1603.60ZM1612.48,1632.53L1642.48,1644.53L1642.48,1648.63L1612.48,1636.93ZM1612.48,1665.87L1642.48,1677.87L1642.48,1681.97L1612.48,1670.27ZM1612.48,1699.20L1642.48,1711.20L1642.48,1715.30L1612.48,1703.60ZM1612.48,1732.53L1642.48,1744.53L1642.48,1748.63L1612.48,1736.93ZM1612.48,1765.87L1642.48,1777.87L1642.48,1781.97L1612.48,1770.27ZM1612.48,1799.20L1642.48,1811.20L1642.48,1815.30L1612.48,1803.60ZM1612.48,1832.53L1642.48,1844.53L1642.48,1848.63L1612.48,1836.93ZM1612.48,1865.87L1642.48,1877.87L1642.48,1881.97L1612.48,1870.27ZM1612.48,1899.20L1642.48,1911.20L1642.48,1915.30L1612.48,1903.60ZM1612.48,1932.53L1642.48,1944.53L1642.48,1948.63L1612.48,1936.93ZM1612.48,1965.87L1642.48,1977.87L1642.48,1981.97L1612.48,1970.27ZM1612.48,1999.20L1642.48,2011.20L1642.48,2015.30L1612.48,2003.60ZM1612.48,2032.53L1642.48,2044.53L1642.48,2048.63L1612.48,2036.93ZM1612.48,2065.87L1642.48,2077.87L1642.48,2081.97L1612.48,2070.27ZM1612.48,2099.20L1642.48,2111.20L1642.48,2115.30L1612.48,2103.60ZM1612.48,2132.53L1642.48,2144.53L1642.48,2148.63L1612.48,2136.93ZM1612.48,2165.87L1642.48,2177.87L1642.48,2181.97L1612.48,2170.27ZM1612.48,2199.20L1642.48,2211.20L1642.48,2215.30L1612.48,2203.60ZM1612.48,2232.53L1642.48,2244.53L1642.48,2248.63L1612.48,2236.93ZM1612.48,2265.87L1642.48,2277.87L1642.48,2281.97L1612.48,2270.27ZM1612.48,2299.20L1642.48,2311.20L1642.48,2315.30L1612.48,2303.60ZM1612.48,2332.53L1642.48,2344.53L1642.48,2348.63L1612.48,2336.93ZM1612.48,2365.87L1642.48,2377.87L1642.48,2381.97L1612.48,2370.27ZM1612.48,2399.20L1642.48,2411.20L1642.48,2415.30L1612.48,2403.60ZM1612.48,2432.53L1642.48,2444.53L1642.48,2448.63L1612.48,2436.93ZM1612.48,2465.87L1642.48,2477.87L1642.48,2481.97L1612.48,2470.27ZM1612.48,2499.20L1642.48,2511.20L1642.48,2515.30L1612.48,2503.60ZM1612.48,2532.53L1642.48,2544.53L1642.48,2548.63L1612.48,2536.93ZM1612.48,2565.87L1642.48,2577.87L1642.48,2581.97L1612.48,2570.27ZM1612.48,2599.20L1642.48,2611.20L1642.48,2615.30L1612.48,2603.60ZM1612.48,2632.53L1642.48,2644.53L1642.48,2648.63L1612.48,2636.93ZM1612.48,2665.87L1642.48,2677.87L1642.48,2681.97L1612.48,2670.27ZM1612.48,2699.20L1642.48,2711.20L1642.48,2715.30L1612.48,2703.60ZM1612.48,2732.53L1642.48,2744.53L1642.48,2748.63L1612.48,2736.93ZM1612.48,2765.87L1642.48,2777.87L1642.48,2781.97L1612.48,2770.27ZM1612.48,2799.20L1642.48,2811.20L1642.48,2815.30L1612.48,2803.60ZM1612.48,2832.53L1642.48,2844.53L1642.48,2848.63L1612.48,2836.93ZM1612.48,2865.87L1642.48,2877.87L1642.48,2881.97L1612.48,2870.27ZM1612.48,2899.20L1642.48,2911.20L1642.48,2915.30L1612.48,2903.60ZM1612.48,2932.53L1642.48,2944.53L1642.48,2948.63L1612.48,2936.93ZM1612.48,2965.87L1642.48,2977.87L1642.48,2981.97L1612.48,2970.27ZM1612.48,2999.20L1642.48,3011.20L1642.48,3015.30L1612.48,3003.60ZM1612.48,3032.53L1642.48,3044.53L1642.48,3048.63L1612.48,3036.93ZM1612.48,3065.87L1642.48,3077.87L1642.48,3081.97L1612.48,3070.27ZM1612.48,3099.20L1642.48,3111.20L1642.48,3115.30L1612.48,3103.60ZM1612.48,3132.53L1642.48,3144.53L1642.48,3148.63L1612.48,3136.93ZM1612.48,3165.87L1642.48,3177.87L1642.48,3181.97L1612.48,3170.27ZM1612.48,3199.20L1642.48,3211.20L1642.48,3215.30L1612.48,3203.60ZM1612.48,3232.53L1642.48,3244.53L1642.48,3248.63L1612.48,3236.93ZM1612.48,3265.87L1642.48,3277.87L1642.48,3281.97L1612.48,3270.27ZM1612.48,3299.20L1642.48,3311.20L1642.48,3315.30L1612.48,3303.60ZM1612.48,3332.53L1642.48,3344.53L1642.48,3348.63L1612.48,3336.93ZM1612.48,3365.87L1642.48,3377.87L1642.48,3381.97L1612.48,3370.27ZM1612.48,3399.20L1642.48,3411.20L1642.48,3415.30L1612.48,3403.60ZM1612.48,3432.53L1642.48,3444.53L1642.48,3448.63L1612.48,3436.93ZM1612.48,3465.87L1642.48,3477.87L1642.48,3481.97L1612.48,3470.27ZM1612.48,3499.20L1642.48,3511.20L1642.48,3515.30L1612.48,3503.60ZM1612.48,3532.53L1642.48,3544.53L1642.48,3548.63L1612.48,3536.93ZM1612.48,3565.87L1642.48,3577.87L1642.48,3581.97L1612.48,3570.27ZM1612.48,3599.20L1642.48,3611.20L1642.48,3615.30L1612.48,3603.60ZM1612.48,3632.53L1642.48,3644.53L1642.48,3648.63L1612.48,3636.93ZM1612.48,3665.87L1642.48,3677.87L1642.48,3681.97L1612.48,3670.27ZM1612.48,3699.20L1642.48,3711.20L1642.48,3715.30L1612.48,3703.60ZM1612.48,3732.53L1642.48,3744.53L1642.48,3748.63L1612.48,3736.93ZM1612.48,3765.87L1642.48,3777.87L1642.48,3781.97L1612.48,3770.27ZM1612.48,3799.20L1642.48,3811.20L1642.48,3815.30L1612.48,3803.60ZM1612.48,3832.53L1642.48,3844.53L1642.48,3848.63L1612.48,3836.93ZM1612.48,3865.87L1642.48,3877.87L1642.48,3881.97L1612.48,3870.27ZM1612.48,3899.20L1642.48,3911.20L1642.48,3915.30L1612.48,3903.60ZM1612.48,3932.53L1642.48,3944.53L1642.48,3948.63L1612.48,3936.93Z" fill="#000"/><rect x="1641.98" y="990" width="3.8" height="2948.8333333333335" fill="#000"/><path d="M1612.48,1005.20L1644.58,1018.00M1612.48,1038.53L1644.58,1051.33M1612.48,1071.87L1644.58,1084.67M1612.48,1105.20L1644.58,1118.00M1612.48,1138.53L1644.58,1151.33M1612.48,1171.87L1644.58,1184.67M1612.48,1205.20L1644.58,1218.00M1612.48,1238.53L1644.58,1251.33M1612.48,1271.87L1644.58,1284.67M1612.48,1305.20L1644.58,1318.00M1612.48,1338.53L1644.58,1351.33M1612.48,1371.87L1644.58,1384.67M1612.48,1405.20L1644.58,1418.00M1612.48,1438.53L1644.58,1451.33M1612.48,1471.87L1644.58,1484.67M1612.48,1505.20L1644.58,1518.00M1612.48,1538.53L1644.58,1551.33M1612.48,1571.87L1644.58,1584.67M1612.48,1605.20L1644.58,1618.00M1612.48,1638.53L1644.58,1651.33M1612.48,1671.87L1644.58,1684.67M1612.48,1705.20L1644.58,1718.00M1612.48,1738.53L1644.58,1751.33M1612.48,1771.87L1644.58,1784.67M1612.48,1805.20L1644.58,1818.00M1612.48,1838.53L1644.58,1851.33M1612.48,1871.87L1644.58,1884.67M1612.48,1905.20L1644.58,1918.00M1612.48,1938.53L1644.58,1951.33M1612.48,1971.87L1644.58,1984.67M1612.48,2005.20L1644.58,2018.00M1612.48,2038.53L1644.58,2051.33M1612.48,2071.87L1644.58,2084.67M1612.48,2105.20L1644.58,2118.00M1612.48,2138.53L1644.58,2151.33M1612.48,2171.87L1644.58,2184.67M1612.48,2205.20L1644.58,2218.00M1612.48,2238.53L1644.58,2251.33M1612.48,2271.87L1644.58,2284.67M1612.48,2305.20L1644.58,2318.00M1612.48,2338.53L1644.58,2351.33M1612.48,2371.87L1644.58,2384.67M1612.48,2405.20L1644.58,2418.00M1612.48,2438.53L1644.58,2451.33M1612.48,2471.87L1644.58,2484.67M1612.48,2505.20L1644.58,2518.00M1612.48,2538.53L1644.58,2551.33M1612.48,2571.87L1644.58,2584.67M1612.48,2605.20L1644.58,2618.00M1612.48,2638.53L1644.58,2651.33M1612.48,2671.87L1644.58,2684.67M1612.48,2705.20L1644.58,2718.00M1612.48,2738.53L1644.58,2751.33M1612.48,2771.87L1644.58,2784.67M1612.48,2805.20L1644.58,2818.00M1612.48,2838.53L1644.58,2851.33M1612.48,2871.87L1644.58,2884.67M1612.48,2905.20L1644.58,2918.00M1612.48,2938.53L1644.58,2951.33M1612.48,2971.87L1644.58,2984.67M1612.48,3005.20L1644.58,3018.00M1612.48,3038.53L1644.58,3051.33M1612.48,3071.87L1644.58,3084.67M1612.48,3105.20L1644.58,3118.00M1612.48,3138.53L1644.58,3151.33M1612.48,3171.87L1644.58,3184.67M1612.48,3205.20L1644.58,3218.00M1612.48,3238.53L1644.58,3251.33M1612.48,3271.87L1644.58,3284.67M1612.48,3305.20L1644.58,3318.00M1612.48,3338.53L1644.58,3351.33M1612.48,3371.87L1644.58,3384.67M1612.48,3405.20L1644.58,3418.00M1612.48,3438.53L1644.58,3451.33M1612.48,3471.87L1644.58,3484.67M1612.48,3505.20L1644.58,3518.00M1612.48,3538.53L1644.58,3551.33M1612.48,3571.87L1644.58,3584.67M1612.48,3605.20L1644.58,3618.00M1612.48,3638.53L1644.58,3651.33M1612.48,3671.87L1644.58,3684.67M1612.48,3705.20L1644.58,3718.00M1612.48,3738.53L1644.58,3751.33M1612.48,3771.87L1644.58,3784.67M1612.48,3805.20L1644.58,3818.00M1612.48,3838.53L1644.58,3851.33M1612.48,3871.87L1644.58,3884.67M1612.48,3905.20L1644.58,3918.00M1612.48,3938.53L1644.58,3951.33" stroke="#FFFFFF" stroke-width="3.0" fill="none"/></g><rect x="1644.78" y="990" width="1.0" height="2948.8333333333335" fill="#000"/><rect x="1641.98" y="990" width="3.8" height="14" fill="#000"/><rect x="1609.78" y="3935.0333333333333" width="36.0" height="3.8" fill="#000"/>
<rect x="1729.35" y="1003" width="3" height="2669.166666666667" fill="#FFFFFF"/><rect x="1732.35" y="1003" width="29.6" height="2669.166666666667" fill="#F2F2F2"/><clipPath id="cc1732"><rect x="1729.35" y="1003" width="40" height="2669.166666666667"/></clipPath><g clip-path="url(#cc1732)"><path d="M1732.35,999.20L1762.35,1011.20L1762.35,1015.30L1732.35,1003.60ZM1732.35,1032.53L1762.35,1044.53L1762.35,1048.63L1732.35,1036.93ZM1732.35,1065.87L1762.35,1077.87L1762.35,1081.97L1732.35,1070.27ZM1732.35,1099.20L1762.35,1111.20L1762.35,1115.30L1732.35,1103.60ZM1732.35,1132.53L1762.35,1144.53L1762.35,1148.63L1732.35,1136.93ZM1732.35,1165.87L1762.35,1177.87L1762.35,1181.97L1732.35,1170.27ZM1732.35,1199.20L1762.35,1211.20L1762.35,1215.30L1732.35,1203.60ZM1732.35,1232.53L1762.35,1244.53L1762.35,1248.63L1732.35,1236.93ZM1732.35,1265.87L1762.35,1277.87L1762.35,1281.97L1732.35,1270.27ZM1732.35,1299.20L1762.35,1311.20L1762.35,1315.30L1732.35,1303.60ZM1732.35,1332.53L1762.35,1344.53L1762.35,1348.63L1732.35,1336.93ZM1732.35,1365.87L1762.35,1377.87L1762.35,1381.97L1732.35,1370.27ZM1732.35,1399.20L1762.35,1411.20L1762.35,1415.30L1732.35,1403.60ZM1732.35,1432.53L1762.35,1444.53L1762.35,1448.63L1732.35,1436.93ZM1732.35,1465.87L1762.35,1477.87L1762.35,1481.97L1732.35,1470.27ZM1732.35,1499.20L1762.35,1511.20L1762.35,1515.30L1732.35,1503.60ZM1732.35,1532.53L1762.35,1544.53L1762.35,1548.63L1732.35,1536.93ZM1732.35,1565.87L1762.35,1577.87L1762.35,1581.97L1732.35,1570.27ZM1732.35,1599.20L1762.35,1611.20L1762.35,1615.30L1732.35,1603.60ZM1732.35,1632.53L1762.35,1644.53L1762.35,1648.63L1732.35,1636.93ZM1732.35,1665.87L1762.35,1677.87L1762.35,1681.97L1732.35,1670.27ZM1732.35,1699.20L1762.35,1711.20L1762.35,1715.30L1732.35,1703.60ZM1732.35,1732.53L1762.35,1744.53L1762.35,1748.63L1732.35,1736.93ZM1732.35,1765.87L1762.35,1777.87L1762.35,1781.97L1732.35,1770.27ZM1732.35,1799.20L1762.35,1811.20L1762.35,1815.30L1732.35,1803.60ZM1732.35,1832.53L1762.35,1844.53L1762.35,1848.63L1732.35,1836.93ZM1732.35,1865.87L1762.35,1877.87L1762.35,1881.97L1732.35,1870.27ZM1732.35,1899.20L1762.35,1911.20L1762.35,1915.30L1732.35,1903.60ZM1732.35,1932.53L1762.35,1944.53L1762.35,1948.63L1732.35,1936.93ZM1732.35,1965.87L1762.35,1977.87L1762.35,1981.97L1732.35,1970.27ZM1732.35,1999.20L1762.35,2011.20L1762.35,2015.30L1732.35,2003.60ZM1732.35,2032.53L1762.35,2044.53L1762.35,2048.63L1732.35,2036.93ZM1732.35,2065.87L1762.35,2077.87L1762.35,2081.97L1732.35,2070.27ZM1732.35,2099.20L1762.35,2111.20L1762.35,2115.30L1732.35,2103.60ZM1732.35,2132.53L1762.35,2144.53L1762.35,2148.63L1732.35,2136.93ZM1732.35,2165.87L1762.35,2177.87L1762.35,2181.97L1732.35,2170.27ZM1732.35,2199.20L1762.35,2211.20L1762.35,2215.30L1732.35,2203.60ZM1732.35,2232.53L1762.35,2244.53L1762.35,2248.63L1732.35,2236.93ZM1732.35,2265.87L1762.35,2277.87L1762.35,2281.97L1732.35,2270.27ZM1732.35,2299.20L1762.35,2311.20L1762.35,2315.30L1732.35,2303.60ZM1732.35,2332.53L1762.35,2344.53L1762.35,2348.63L1732.35,2336.93ZM1732.35,2365.87L1762.35,2377.87L1762.35,2381.97L1732.35,2370.27ZM1732.35,2399.20L1762.35,2411.20L1762.35,2415.30L1732.35,2403.60ZM1732.35,2432.53L1762.35,2444.53L1762.35,2448.63L1732.35,2436.93ZM1732.35,2465.87L1762.35,2477.87L1762.35,2481.97L1732.35,2470.27ZM1732.35,2499.20L1762.35,2511.20L1762.35,2515.30L1732.35,2503.60ZM1732.35,2532.53L1762.35,2544.53L1762.35,2548.63L1732.35,2536.93ZM1732.35,2565.87L1762.35,2577.87L1762.35,2581.97L1732.35,2570.27ZM1732.35,2599.20L1762.35,2611.20L1762.35,2615.30L1732.35,2603.60ZM1732.35,2632.53L1762.35,2644.53L1762.35,2648.63L1732.35,2636.93ZM1732.35,2665.87L1762.35,2677.87L1762.35,2681.97L1732.35,2670.27ZM1732.35,2699.20L1762.35,2711.20L1762.35,2715.30L1732.35,2703.60ZM1732.35,2732.53L1762.35,2744.53L1762.35,2748.63L1732.35,2736.93ZM1732.35,2765.87L1762.35,2777.87L1762.35,2781.97L1732.35,2770.27ZM1732.35,2799.20L1762.35,2811.20L1762.35,2815.30L1732.35,2803.60ZM1732.35,2832.53L1762.35,2844.53L1762.35,2848.63L1732.35,2836.93ZM1732.35,2865.87L1762.35,2877.87L1762.35,2881.97L1732.35,2870.27ZM1732.35,2899.20L1762.35,2911.20L1762.35,2915.30L1732.35,2903.60ZM1732.35,2932.53L1762.35,2944.53L1762.35,2948.63L1732.35,2936.93ZM1732.35,2965.87L1762.35,2977.87L1762.35,2981.97L1732.35,2970.27ZM1732.35,2999.20L1762.35,3011.20L1762.35,3015.30L1732.35,3003.60ZM1732.35,3032.53L1762.35,3044.53L1762.35,3048.63L1732.35,3036.93ZM1732.35,3065.87L1762.35,3077.87L1762.35,3081.97L1732.35,3070.27ZM1732.35,3099.20L1762.35,3111.20L1762.35,3115.30L1732.35,3103.60ZM1732.35,3132.53L1762.35,3144.53L1762.35,3148.63L1732.35,3136.93ZM1732.35,3165.87L1762.35,3177.87L1762.35,3181.97L1732.35,3170.27ZM1732.35,3199.20L1762.35,3211.20L1762.35,3215.30L1732.35,3203.60ZM1732.35,3232.53L1762.35,3244.53L1762.35,3248.63L1732.35,3236.93ZM1732.35,3265.87L1762.35,3277.87L1762.35,3281.97L1732.35,3270.27ZM1732.35,3299.20L1762.35,3311.20L1762.35,3315.30L1732.35,3303.60ZM1732.35,3332.53L1762.35,3344.53L1762.35,3348.63L1732.35,3336.93ZM1732.35,3365.87L1762.35,3377.87L1762.35,3381.97L1732.35,3370.27ZM1732.35,3399.20L1762.35,3411.20L1762.35,3415.30L1732.35,3403.60ZM1732.35,3432.53L1762.35,3444.53L1762.35,3448.63L1732.35,3436.93ZM1732.35,3465.87L1762.35,3477.87L1762.35,3481.97L1732.35,3470.27ZM1732.35,3499.20L1762.35,3511.20L1762.35,3515.30L1732.35,3503.60ZM1732.35,3532.53L1762.35,3544.53L1762.35,3548.63L1732.35,3536.93ZM1732.35,3565.87L1762.35,3577.87L1762.35,3581.97L1732.35,3570.27ZM1732.35,3599.20L1762.35,3611.20L1762.35,3615.30L1732.35,3603.60ZM1732.35,3632.53L1762.35,3644.53L1762.35,3648.63L1732.35,3636.93ZM1732.35,3665.87L1762.35,3677.87L1762.35,3681.97L1732.35,3670.27Z" fill="#000"/><rect x="1761.85" y="990" width="3.8" height="2682.166666666667" fill="#000"/><path d="M1732.35,1005.20L1764.45,1018.00M1732.35,1038.53L1764.45,1051.33M1732.35,1071.87L1764.45,1084.67M1732.35,1105.20L1764.45,1118.00M1732.35,1138.53L1764.45,1151.33M1732.35,1171.87L1764.45,1184.67M1732.35,1205.20L1764.45,1218.00M1732.35,1238.53L1764.45,1251.33M1732.35,1271.87L1764.45,1284.67M1732.35,1305.20L1764.45,1318.00M1732.35,1338.53L1764.45,1351.33M1732.35,1371.87L1764.45,1384.67M1732.35,1405.20L1764.45,1418.00M1732.35,1438.53L1764.45,1451.33M1732.35,1471.87L1764.45,1484.67M1732.35,1505.20L1764.45,1518.00M1732.35,1538.53L1764.45,1551.33M1732.35,1571.87L1764.45,1584.67M1732.35,1605.20L1764.45,1618.00M1732.35,1638.53L1764.45,1651.33M1732.35,1671.87L1764.45,1684.67M1732.35,1705.20L1764.45,1718.00M1732.35,1738.53L1764.45,1751.33M1732.35,1771.87L1764.45,1784.67M1732.35,1805.20L1764.45,1818.00M1732.35,1838.53L1764.45,1851.33M1732.35,1871.87L1764.45,1884.67M1732.35,1905.20L1764.45,1918.00M1732.35,1938.53L1764.45,1951.33M1732.35,1971.87L1764.45,1984.67M1732.35,2005.20L1764.45,2018.00M1732.35,2038.53L1764.45,2051.33M1732.35,2071.87L1764.45,2084.67M1732.35,2105.20L1764.45,2118.00M1732.35,2138.53L1764.45,2151.33M1732.35,2171.87L1764.45,2184.67M1732.35,2205.20L1764.45,2218.00M1732.35,2238.53L1764.45,2251.33M1732.35,2271.87L1764.45,2284.67M1732.35,2305.20L1764.45,2318.00M1732.35,2338.53L1764.45,2351.33M1732.35,2371.87L1764.45,2384.67M1732.35,2405.20L1764.45,2418.00M1732.35,2438.53L1764.45,2451.33M1732.35,2471.87L1764.45,2484.67M1732.35,2505.20L1764.45,2518.00M1732.35,2538.53L1764.45,2551.33M1732.35,2571.87L1764.45,2584.67M1732.35,2605.20L1764.45,2618.00M1732.35,2638.53L1764.45,2651.33M1732.35,2671.87L1764.45,2684.67M1732.35,2705.20L1764.45,2718.00M1732.35,2738.53L1764.45,2751.33M1732.35,2771.87L1764.45,2784.67M1732.35,2805.20L1764.45,2818.00M1732.35,2838.53L1764.45,2851.33M1732.35,2871.87L1764.45,2884.67M1732.35,2905.20L1764.45,2918.00M1732.35,2938.53L1764.45,2951.33M1732.35,2971.87L1764.45,2984.67M1732.35,3005.20L1764.45,3018.00M1732.35,3038.53L1764.45,3051.33M1732.35,3071.87L1764.45,3084.67M1732.35,3105.20L1764.45,3118.00M1732.35,3138.53L1764.45,3151.33M1732.35,3171.87L1764.45,3184.67M1732.35,3205.20L1764.45,3218.00M1732.35,3238.53L1764.45,3251.33M1732.35,3271.87L1764.45,3284.67M1732.35,3305.20L1764.45,3318.00M1732.35,3338.53L1764.45,3351.33M1732.35,3371.87L1764.45,3384.67M1732.35,3405.20L1764.45,3418.00M1732.35,3438.53L1764.45,3451.33M1732.35,3471.87L1764.45,3484.67M1732.35,3505.20L1764.45,3518.00M1732.35,3538.53L1764.45,3551.33M1732.35,3571.87L1764.45,3584.67M1732.35,3605.20L1764.45,3618.00M1732.35,3638.53L1764.45,3651.33M1732.35,3671.87L1764.45,3684.67" stroke="#FFFFFF" stroke-width="3.0" fill="none"/></g><rect x="1764.6499999999999" y="990" width="1.0" height="2682.166666666667" fill="#000"/><rect x="1761.85" y="990" width="3.8" height="14" fill="#000"/><rect x="1729.6499999999999" y="3668.366666666667" width="36.0" height="3.8" fill="#000"/>
<rect x="1849.22" y="1003" width="3" height="3135.833333333334" fill="#FFFFFF"/><rect x="1852.22" y="1003" width="29.6" height="3135.833333333334" fill="#F2F2F2"/><clipPath id="cc1852"><rect x="1849.22" y="1003" width="40" height="3135.833333333334"/></clipPath><g clip-path="url(#cc1852)"><path d="M1852.22,999.20L1882.22,1011.20L1882.22,1015.30L1852.22,1003.60ZM1852.22,1032.53L1882.22,1044.53L1882.22,1048.63L1852.22,1036.93ZM1852.22,1065.87L1882.22,1077.87L1882.22,1081.97L1852.22,1070.27ZM1852.22,1099.20L1882.22,1111.20L1882.22,1115.30L1852.22,1103.60ZM1852.22,1132.53L1882.22,1144.53L1882.22,1148.63L1852.22,1136.93ZM1852.22,1165.87L1882.22,1177.87L1882.22,1181.97L1852.22,1170.27ZM1852.22,1199.20L1882.22,1211.20L1882.22,1215.30L1852.22,1203.60ZM1852.22,1232.53L1882.22,1244.53L1882.22,1248.63L1852.22,1236.93ZM1852.22,1265.87L1882.22,1277.87L1882.22,1281.97L1852.22,1270.27ZM1852.22,1299.20L1882.22,1311.20L1882.22,1315.30L1852.22,1303.60ZM1852.22,1332.53L1882.22,1344.53L1882.22,1348.63L1852.22,1336.93ZM1852.22,1365.87L1882.22,1377.87L1882.22,1381.97L1852.22,1370.27ZM1852.22,1399.20L1882.22,1411.20L1882.22,1415.30L1852.22,1403.60ZM1852.22,1432.53L1882.22,1444.53L1882.22,1448.63L1852.22,1436.93ZM1852.22,1465.87L1882.22,1477.87L1882.22,1481.97L1852.22,1470.27ZM1852.22,1499.20L1882.22,1511.20L1882.22,1515.30L1852.22,1503.60ZM1852.22,1532.53L1882.22,1544.53L1882.22,1548.63L1852.22,1536.93ZM1852.22,1565.87L1882.22,1577.87L1882.22,1581.97L1852.22,1570.27ZM1852.22,1599.20L1882.22,1611.20L1882.22,1615.30L1852.22,1603.60ZM1852.22,1632.53L1882.22,1644.53L1882.22,1648.63L1852.22,1636.93ZM1852.22,1665.87L1882.22,1677.87L1882.22,1681.97L1852.22,1670.27ZM1852.22,1699.20L1882.22,1711.20L1882.22,1715.30L1852.22,1703.60ZM1852.22,1732.53L1882.22,1744.53L1882.22,1748.63L1852.22,1736.93ZM1852.22,1765.87L1882.22,1777.87L1882.22,1781.97L1852.22,1770.27ZM1852.22,1799.20L1882.22,1811.20L1882.22,1815.30L1852.22,1803.60ZM1852.22,1832.53L1882.22,1844.53L1882.22,1848.63L1852.22,1836.93ZM1852.22,1865.87L1882.22,1877.87L1882.22,1881.97L1852.22,1870.27ZM1852.22,1899.20L1882.22,1911.20L1882.22,1915.30L1852.22,1903.60ZM1852.22,1932.53L1882.22,1944.53L1882.22,1948.63L1852.22,1936.93ZM1852.22,1965.87L1882.22,1977.87L1882.22,1981.97L1852.22,1970.27ZM1852.22,1999.20L1882.22,2011.20L1882.22,2015.30L1852.22,2003.60ZM1852.22,2032.53L1882.22,2044.53L1882.22,2048.63L1852.22,2036.93ZM1852.22,2065.87L1882.22,2077.87L1882.22,2081.97L1852.22,2070.27ZM1852.22,2099.20L1882.22,2111.20L1882.22,2115.30L1852.22,2103.60ZM1852.22,2132.53L1882.22,2144.53L1882.22,2148.63L1852.22,2136.93ZM1852.22,2165.87L1882.22,2177.87L1882.22,2181.97L1852.22,2170.27ZM1852.22,2199.20L1882.22,2211.20L1882.22,2215.30L1852.22,2203.60ZM1852.22,2232.53L1882.22,2244.53L1882.22,2248.63L1852.22,2236.93ZM1852.22,2265.87L1882.22,2277.87L1882.22,2281.97L1852.22,2270.27ZM1852.22,2299.20L1882.22,2311.20L1882.22,2315.30L1852.22,2303.60ZM1852.22,2332.53L1882.22,2344.53L1882.22,2348.63L1852.22,2336.93ZM1852.22,2365.87L1882.22,2377.87L1882.22,2381.97L1852.22,2370.27ZM1852.22,2399.20L1882.22,2411.20L1882.22,2415.30L1852.22,2403.60ZM1852.22,2432.53L1882.22,2444.53L1882.22,2448.63L1852.22,2436.93ZM1852.22,2465.87L1882.22,2477.87L1882.22,2481.97L1852.22,2470.27ZM1852.22,2499.20L1882.22,2511.20L1882.22,2515.30L1852.22,2503.60ZM1852.22,2532.53L1882.22,2544.53L1882.22,2548.63L1852.22,2536.93ZM1852.22,2565.87L1882.22,2577.87L1882.22,2581.97L1852.22,2570.27ZM1852.22,2599.20L1882.22,2611.20L1882.22,2615.30L1852.22,2603.60ZM1852.22,2632.53L1882.22,2644.53L1882.22,2648.63L1852.22,2636.93ZM1852.22,2665.87L1882.22,2677.87L1882.22,2681.97L1852.22,2670.27ZM1852.22,2699.20L1882.22,2711.20L1882.22,2715.30L1852.22,2703.60ZM1852.22,2732.53L1882.22,2744.53L1882.22,2748.63L1852.22,2736.93ZM1852.22,2765.87L1882.22,2777.87L1882.22,2781.97L1852.22,2770.27ZM1852.22,2799.20L1882.22,2811.20L1882.22,2815.30L1852.22,2803.60ZM1852.22,2832.53L1882.22,2844.53L1882.22,2848.63L1852.22,2836.93ZM1852.22,2865.87L1882.22,2877.87L1882.22,2881.97L1852.22,2870.27ZM1852.22,2899.20L1882.22,2911.20L1882.22,2915.30L1852.22,2903.60ZM1852.22,2932.53L1882.22,2944.53L1882.22,2948.63L1852.22,2936.93ZM1852.22,2965.87L1882.22,2977.87L1882.22,2981.97L1852.22,2970.27ZM1852.22,2999.20L1882.22,3011.20L1882.22,3015.30L1852.22,3003.60ZM1852.22,3032.53L1882.22,3044.53L1882.22,3048.63L1852.22,3036.93ZM1852.22,3065.87L1882.22,3077.87L1882.22,3081.97L1852.22,3070.27ZM1852.22,3099.20L1882.22,3111.20L1882.22,3115.30L1852.22,3103.60ZM1852.22,3132.53L1882.22,3144.53L1882.22,3148.63L1852.22,3136.93ZM1852.22,3165.87L1882.22,3177.87L1882.22,3181.97L1852.22,3170.27ZM1852.22,3199.20L1882.22,3211.20L1882.22,3215.30L1852.22,3203.60ZM1852.22,3232.53L1882.22,3244.53L1882.22,3248.63L1852.22,3236.93ZM1852.22,3265.87L1882.22,3277.87L1882.22,3281.97L1852.22,3270.27ZM1852.22,3299.20L1882.22,3311.20L1882.22,3315.30L1852.22,3303.60ZM1852.22,3332.53L1882.22,3344.53L1882.22,3348.63L1852.22,3336.93ZM1852.22,3365.87L1882.22,3377.87L1882.22,3381.97L1852.22,3370.27ZM1852.22,3399.20L1882.22,3411.20L1882.22,3415.30L1852.22,3403.60ZM1852.22,3432.53L1882.22,3444.53L1882.22,3448.63L1852.22,3436.93ZM1852.22,3465.87L1882.22,3477.87L1882.22,3481.97L1852.22,3470.27ZM1852.22,3499.20L1882.22,3511.20L1882.22,3515.30L1852.22,3503.60ZM1852.22,3532.53L1882.22,3544.53L1882.22,3548.63L1852.22,3536.93ZM1852.22,3565.87L1882.22,3577.87L1882.22,3581.97L1852.22,3570.27ZM1852.22,3599.20L1882.22,3611.20L1882.22,3615.30L1852.22,3603.60ZM1852.22,3632.53L1882.22,3644.53L1882.22,3648.63L1852.22,3636.93ZM1852.22,3665.87L1882.22,3677.87L1882.22,3681.97L1852.22,3670.27ZM1852.22,3699.20L1882.22,3711.20L1882.22,3715.30L1852.22,3703.60ZM1852.22,3732.53L1882.22,3744.53L1882.22,3748.63L1852.22,3736.93ZM1852.22,3765.87L1882.22,3777.87L1882.22,3781.97L1852.22,3770.27ZM1852.22,3799.20L1882.22,3811.20L1882.22,3815.30L1852.22,3803.60ZM1852.22,3832.53L1882.22,3844.53L1882.22,3848.63L1852.22,3836.93ZM1852.22,3865.87L1882.22,3877.87L1882.22,3881.97L1852.22,3870.27ZM1852.22,3899.20L1882.22,3911.20L1882.22,3915.30L1852.22,3903.60ZM1852.22,3932.53L1882.22,3944.53L1882.22,3948.63L1852.22,3936.93ZM1852.22,3965.87L1882.22,3977.87L1882.22,3981.97L1852.22,3970.27ZM1852.22,3999.20L1882.22,4011.20L1882.22,4015.30L1852.22,4003.60ZM1852.22,4032.53L1882.22,4044.53L1882.22,4048.63L1852.22,4036.93ZM1852.22,4065.87L1882.22,4077.87L1882.22,4081.97L1852.22,4070.27ZM1852.22,4099.20L1882.22,4111.20L1882.22,4115.30L1852.22,4103.60ZM1852.22,4132.53L1882.22,4144.53L1882.22,4148.63L1852.22,4136.93Z" fill="#000"/><rect x="1881.72" y="990" width="3.8" height="3148.833333333334" fill="#000"/><path d="M1852.22,1005.20L1884.32,1018.00M1852.22,1038.53L1884.32,1051.33M1852.22,1071.87L1884.32,1084.67M1852.22,1105.20L1884.32,1118.00M1852.22,1138.53L1884.32,1151.33M1852.22,1171.87L1884.32,1184.67M1852.22,1205.20L1884.32,1218.00M1852.22,1238.53L1884.32,1251.33M1852.22,1271.87L1884.32,1284.67M1852.22,1305.20L1884.32,1318.00M1852.22,1338.53L1884.32,1351.33M1852.22,1371.87L1884.32,1384.67M1852.22,1405.20L1884.32,1418.00M1852.22,1438.53L1884.32,1451.33M1852.22,1471.87L1884.32,1484.67M1852.22,1505.20L1884.32,1518.00M1852.22,1538.53L1884.32,1551.33M1852.22,1571.87L1884.32,1584.67M1852.22,1605.20L1884.32,1618.00M1852.22,1638.53L1884.32,1651.33M1852.22,1671.87L1884.32,1684.67M1852.22,1705.20L1884.32,1718.00M1852.22,1738.53L1884.32,1751.33M1852.22,1771.87L1884.32,1784.67M1852.22,1805.20L1884.32,1818.00M1852.22,1838.53L1884.32,1851.33M1852.22,1871.87L1884.32,1884.67M1852.22,1905.20L1884.32,1918.00M1852.22,1938.53L1884.32,1951.33M1852.22,1971.87L1884.32,1984.67M1852.22,2005.20L1884.32,2018.00M1852.22,2038.53L1884.32,2051.33M1852.22,2071.87L1884.32,2084.67M1852.22,2105.20L1884.32,2118.00M1852.22,2138.53L1884.32,2151.33M1852.22,2171.87L1884.32,2184.67M1852.22,2205.20L1884.32,2218.00M1852.22,2238.53L1884.32,2251.33M1852.22,2271.87L1884.32,2284.67M1852.22,2305.20L1884.32,2318.00M1852.22,2338.53L1884.32,2351.33M1852.22,2371.87L1884.32,2384.67M1852.22,2405.20L1884.32,2418.00M1852.22,2438.53L1884.32,2451.33M1852.22,2471.87L1884.32,2484.67M1852.22,2505.20L1884.32,2518.00M1852.22,2538.53L1884.32,2551.33M1852.22,2571.87L1884.32,2584.67M1852.22,2605.20L1884.32,2618.00M1852.22,2638.53L1884.32,2651.33M1852.22,2671.87L1884.32,2684.67M1852.22,2705.20L1884.32,2718.00M1852.22,2738.53L1884.32,2751.33M1852.22,2771.87L1884.32,2784.67M1852.22,2805.20L1884.32,2818.00M1852.22,2838.53L1884.32,2851.33M1852.22,2871.87L1884.32,2884.67M1852.22,2905.20L1884.32,2918.00M1852.22,2938.53L1884.32,2951.33M1852.22,2971.87L1884.32,2984.67M1852.22,3005.20L1884.32,3018.00M1852.22,3038.53L1884.32,3051.33M1852.22,3071.87L1884.32,3084.67M1852.22,3105.20L1884.32,3118.00M1852.22,3138.53L1884.32,3151.33M1852.22,3171.87L1884.32,3184.67M1852.22,3205.20L1884.32,3218.00M1852.22,3238.53L1884.32,3251.33M1852.22,3271.87L1884.32,3284.67M1852.22,3305.20L1884.32,3318.00M1852.22,3338.53L1884.32,3351.33M1852.22,3371.87L1884.32,3384.67M1852.22,3405.20L1884.32,3418.00M1852.22,3438.53L1884.32,3451.33M1852.22,3471.87L1884.32,3484.67M1852.22,3505.20L1884.32,3518.00M1852.22,3538.53L1884.32,3551.33M1852.22,3571.87L1884.32,3584.67M1852.22,3605.20L1884.32,3618.00M1852.22,3638.53L1884.32,3651.33M1852.22,3671.87L1884.32,3684.67M1852.22,3705.20L1884.32,3718.00M1852.22,3738.53L1884.32,3751.33M1852.22,3771.87L1884.32,3784.67M1852.22,3805.20L1884.32,3818.00M1852.22,3838.53L1884.32,3851.33M1852.22,3871.87L1884.32,3884.67M1852.22,3905.20L1884.32,3918.00M1852.22,3938.53L1884.32,3951.33M1852.22,3971.87L1884.32,3984.67M1852.22,4005.20L1884.32,4018.00M1852.22,4038.53L1884.32,4051.33M1852.22,4071.87L1884.32,4084.67M1852.22,4105.20L1884.32,4118.00M1852.22,4138.53L1884.32,4151.33" stroke="#FFFFFF" stroke-width="3.0" fill="none"/></g><rect x="1884.52" y="990" width="1.0" height="3148.833333333334" fill="#000"/><rect x="1881.72" y="990" width="3.8" height="14" fill="#000"/><rect x="1849.52" y="4135.033333333334" width="36.0" height="3.8" fill="#000"/>
<rect x="1969.09" y="1003" width="3" height="3135.833333333334" fill="#FFFFFF"/><rect x="1972.09" y="1003" width="29.6" height="3135.833333333334" fill="#F2F2F2"/><clipPath id="cc1972"><rect x="1969.09" y="1003" width="40" height="3135.833333333334"/></clipPath><g clip-path="url(#cc1972)"><path d="M1972.09,999.20L2002.09,1011.20L2002.09,1015.30L1972.09,1003.60ZM1972.09,1032.53L2002.09,1044.53L2002.09,1048.63L1972.09,1036.93ZM1972.09,1065.87L2002.09,1077.87L2002.09,1081.97L1972.09,1070.27ZM1972.09,1099.20L2002.09,1111.20L2002.09,1115.30L1972.09,1103.60ZM1972.09,1132.53L2002.09,1144.53L2002.09,1148.63L1972.09,1136.93ZM1972.09,1165.87L2002.09,1177.87L2002.09,1181.97L1972.09,1170.27ZM1972.09,1199.20L2002.09,1211.20L2002.09,1215.30L1972.09,1203.60ZM1972.09,1232.53L2002.09,1244.53L2002.09,1248.63L1972.09,1236.93ZM1972.09,1265.87L2002.09,1277.87L2002.09,1281.97L1972.09,1270.27ZM1972.09,1299.20L2002.09,1311.20L2002.09,1315.30L1972.09,1303.60ZM1972.09,1332.53L2002.09,1344.53L2002.09,1348.63L1972.09,1336.93ZM1972.09,1365.87L2002.09,1377.87L2002.09,1381.97L1972.09,1370.27ZM1972.09,1399.20L2002.09,1411.20L2002.09,1415.30L1972.09,1403.60ZM1972.09,1432.53L2002.09,1444.53L2002.09,1448.63L1972.09,1436.93ZM1972.09,1465.87L2002.09,1477.87L2002.09,1481.97L1972.09,1470.27ZM1972.09,1499.20L2002.09,1511.20L2002.09,1515.30L1972.09,1503.60ZM1972.09,1532.53L2002.09,1544.53L2002.09,1548.63L1972.09,1536.93ZM1972.09,1565.87L2002.09,1577.87L2002.09,1581.97L1972.09,1570.27ZM1972.09,1599.20L2002.09,1611.20L2002.09,1615.30L1972.09,1603.60ZM1972.09,1632.53L2002.09,1644.53L2002.09,1648.63L1972.09,1636.93ZM1972.09,1665.87L2002.09,1677.87L2002.09,1681.97L1972.09,1670.27ZM1972.09,1699.20L2002.09,1711.20L2002.09,1715.30L1972.09,1703.60ZM1972.09,1732.53L2002.09,1744.53L2002.09,1748.63L1972.09,1736.93ZM1972.09,1765.87L2002.09,1777.87L2002.09,1781.97L1972.09,1770.27ZM1972.09,1799.20L2002.09,1811.20L2002.09,1815.30L1972.09,1803.60ZM1972.09,1832.53L2002.09,1844.53L2002.09,1848.63L1972.09,1836.93ZM1972.09,1865.87L2002.09,1877.87L2002.09,1881.97L1972.09,1870.27ZM1972.09,1899.20L2002.09,1911.20L2002.09,1915.30L1972.09,1903.60ZM1972.09,1932.53L2002.09,1944.53L2002.09,1948.63L1972.09,1936.93ZM1972.09,1965.87L2002.09,1977.87L2002.09,1981.97L1972.09,1970.27ZM1972.09,1999.20L2002.09,2011.20L2002.09,2015.30L1972.09,2003.60ZM1972.09,2032.53L2002.09,2044.53L2002.09,2048.63L1972.09,2036.93ZM1972.09,2065.87L2002.09,2077.87L2002.09,2081.97L1972.09,2070.27ZM1972.09,2099.20L2002.09,2111.20L2002.09,2115.30L1972.09,2103.60ZM1972.09,2132.53L2002.09,2144.53L2002.09,2148.63L1972.09,2136.93ZM1972.09,2165.87L2002.09,2177.87L2002.09,2181.97L1972.09,2170.27ZM1972.09,2199.20L2002.09,2211.20L2002.09,2215.30L1972.09,2203.60ZM1972.09,2232.53L2002.09,2244.53L2002.09,2248.63L1972.09,2236.93ZM1972.09,2265.87L2002.09,2277.87L2002.09,2281.97L1972.09,2270.27ZM1972.09,2299.20L2002.09,2311.20L2002.09,2315.30L1972.09,2303.60ZM1972.09,2332.53L2002.09,2344.53L2002.09,2348.63L1972.09,2336.93ZM1972.09,2365.87L2002.09,2377.87L2002.09,2381.97L1972.09,2370.27ZM1972.09,2399.20L2002.09,2411.20L2002.09,2415.30L1972.09,2403.60ZM1972.09,2432.53L2002.09,2444.53L2002.09,2448.63L1972.09,2436.93ZM1972.09,2465.87L2002.09,2477.87L2002.09,2481.97L1972.09,2470.27ZM1972.09,2499.20L2002.09,2511.20L2002.09,2515.30L1972.09,2503.60ZM1972.09,2532.53L2002.09,2544.53L2002.09,2548.63L1972.09,2536.93ZM1972.09,2565.87L2002.09,2577.87L2002.09,2581.97L1972.09,2570.27ZM1972.09,2599.20L2002.09,2611.20L2002.09,2615.30L1972.09,2603.60ZM1972.09,2632.53L2002.09,2644.53L2002.09,2648.63L1972.09,2636.93ZM1972.09,2665.87L2002.09,2677.87L2002.09,2681.97L1972.09,2670.27ZM1972.09,2699.20L2002.09,2711.20L2002.09,2715.30L1972.09,2703.60ZM1972.09,2732.53L2002.09,2744.53L2002.09,2748.63L1972.09,2736.93ZM1972.09,2765.87L2002.09,2777.87L2002.09,2781.97L1972.09,2770.27ZM1972.09,2799.20L2002.09,2811.20L2002.09,2815.30L1972.09,2803.60ZM1972.09,2832.53L2002.09,2844.53L2002.09,2848.63L1972.09,2836.93ZM1972.09,2865.87L2002.09,2877.87L2002.09,2881.97L1972.09,2870.27ZM1972.09,2899.20L2002.09,2911.20L2002.09,2915.30L1972.09,2903.60ZM1972.09,2932.53L2002.09,2944.53L2002.09,2948.63L1972.09,2936.93ZM1972.09,2965.87L2002.09,2977.87L2002.09,2981.97L1972.09,2970.27ZM1972.09,2999.20L2002.09,3011.20L2002.09,3015.30L1972.09,3003.60ZM1972.09,3032.53L2002.09,3044.53L2002.09,3048.63L1972.09,3036.93ZM1972.09,3065.87L2002.09,3077.87L2002.09,3081.97L1972.09,3070.27ZM1972.09,3099.20L2002.09,3111.20L2002.09,3115.30L1972.09,3103.60ZM1972.09,3132.53L2002.09,3144.53L2002.09,3148.63L1972.09,3136.93ZM1972.09,3165.87L2002.09,3177.87L2002.09,3181.97L1972.09,3170.27ZM1972.09,3199.20L2002.09,3211.20L2002.09,3215.30L1972.09,3203.60ZM1972.09,3232.53L2002.09,3244.53L2002.09,3248.63L1972.09,3236.93ZM1972.09,3265.87L2002.09,3277.87L2002.09,3281.97L1972.09,3270.27ZM1972.09,3299.20L2002.09,3311.20L2002.09,3315.30L1972.09,3303.60ZM1972.09,3332.53L2002.09,3344.53L2002.09,3348.63L1972.09,3336.93ZM1972.09,3365.87L2002.09,3377.87L2002.09,3381.97L1972.09,3370.27ZM1972.09,3399.20L2002.09,3411.20L2002.09,3415.30L1972.09,3403.60ZM1972.09,3432.53L2002.09,3444.53L2002.09,3448.63L1972.09,3436.93ZM1972.09,3465.87L2002.09,3477.87L2002.09,3481.97L1972.09,3470.27ZM1972.09,3499.20L2002.09,3511.20L2002.09,3515.30L1972.09,3503.60ZM1972.09,3532.53L2002.09,3544.53L2002.09,3548.63L1972.09,3536.93ZM1972.09,3565.87L2002.09,3577.87L2002.09,3581.97L1972.09,3570.27ZM1972.09,3599.20L2002.09,3611.20L2002.09,3615.30L1972.09,3603.60ZM1972.09,3632.53L2002.09,3644.53L2002.09,3648.63L1972.09,3636.93ZM1972.09,3665.87L2002.09,3677.87L2002.09,3681.97L1972.09,3670.27ZM1972.09,3699.20L2002.09,3711.20L2002.09,3715.30L1972.09,3703.60ZM1972.09,3732.53L2002.09,3744.53L2002.09,3748.63L1972.09,3736.93ZM1972.09,3765.87L2002.09,3777.87L2002.09,3781.97L1972.09,3770.27ZM1972.09,3799.20L2002.09,3811.20L2002.09,3815.30L1972.09,3803.60ZM1972.09,3832.53L2002.09,3844.53L2002.09,3848.63L1972.09,3836.93ZM1972.09,3865.87L2002.09,3877.87L2002.09,3881.97L1972.09,3870.27ZM1972.09,3899.20L2002.09,3911.20L2002.09,3915.30L1972.09,3903.60ZM1972.09,3932.53L2002.09,3944.53L2002.09,3948.63L1972.09,3936.93ZM1972.09,3965.87L2002.09,3977.87L2002.09,3981.97L1972.09,3970.27ZM1972.09,3999.20L2002.09,4011.20L2002.09,4015.30L1972.09,4003.60ZM1972.09,4032.53L2002.09,4044.53L2002.09,4048.63L1972.09,4036.93ZM1972.09,4065.87L2002.09,4077.87L2002.09,4081.97L1972.09,4070.27ZM1972.09,4099.20L2002.09,4111.20L2002.09,4115.30L1972.09,4103.60ZM1972.09,4132.53L2002.09,4144.53L2002.09,4148.63L1972.09,4136.93Z" fill="#000"/><rect x="2001.59" y="990" width="3.8" height="3148.833333333334" fill="#000"/><path d="M1972.09,1005.20L2004.19,1018.00M1972.09,1038.53L2004.19,1051.33M1972.09,1071.87L2004.19,1084.67M1972.09,1105.20L2004.19,1118.00M1972.09,1138.53L2004.19,1151.33M1972.09,1171.87L2004.19,1184.67M1972.09,1205.20L2004.19,1218.00M1972.09,1238.53L2004.19,1251.33M1972.09,1271.87L2004.19,1284.67M1972.09,1305.20L2004.19,1318.00M1972.09,1338.53L2004.19,1351.33M1972.09,1371.87L2004.19,1384.67M1972.09,1405.20L2004.19,1418.00M1972.09,1438.53L2004.19,1451.33M1972.09,1471.87L2004.19,1484.67M1972.09,1505.20L2004.19,1518.00M1972.09,1538.53L2004.19,1551.33M1972.09,1571.87L2004.19,1584.67M1972.09,1605.20L2004.19,1618.00M1972.09,1638.53L2004.19,1651.33M1972.09,1671.87L2004.19,1684.67M1972.09,1705.20L2004.19,1718.00M1972.09,1738.53L2004.19,1751.33M1972.09,1771.87L2004.19,1784.67M1972.09,1805.20L2004.19,1818.00M1972.09,1838.53L2004.19,1851.33M1972.09,1871.87L2004.19,1884.67M1972.09,1905.20L2004.19,1918.00M1972.09,1938.53L2004.19,1951.33M1972.09,1971.87L2004.19,1984.67M1972.09,2005.20L2004.19,2018.00M1972.09,2038.53L2004.19,2051.33M1972.09,2071.87L2004.19,2084.67M1972.09,2105.20L2004.19,2118.00M1972.09,2138.53L2004.19,2151.33M1972.09,2171.87L2004.19,2184.67M1972.09,2205.20L2004.19,2218.00M1972.09,2238.53L2004.19,2251.33M1972.09,2271.87L2004.19,2284.67M1972.09,2305.20L2004.19,2318.00M1972.09,2338.53L2004.19,2351.33M1972.09,2371.87L2004.19,2384.67M1972.09,2405.20L2004.19,2418.00M1972.09,2438.53L2004.19,2451.33M1972.09,2471.87L2004.19,2484.67M1972.09,2505.20L2004.19,2518.00M1972.09,2538.53L2004.19,2551.33M1972.09,2571.87L2004.19,2584.67M1972.09,2605.20L2004.19,2618.00M1972.09,2638.53L2004.19,2651.33M1972.09,2671.87L2004.19,2684.67M1972.09,2705.20L2004.19,2718.00M1972.09,2738.53L2004.19,2751.33M1972.09,2771.87L2004.19,2784.67M1972.09,2805.20L2004.19,2818.00M1972.09,2838.53L2004.19,2851.33M1972.09,2871.87L2004.19,2884.67M1972.09,2905.20L2004.19,2918.00M1972.09,2938.53L2004.19,2951.33M1972.09,2971.87L2004.19,2984.67M1972.09,3005.20L2004.19,3018.00M1972.09,3038.53L2004.19,3051.33M1972.09,3071.87L2004.19,3084.67M1972.09,3105.20L2004.19,3118.00M1972.09,3138.53L2004.19,3151.33M1972.09,3171.87L2004.19,3184.67M1972.09,3205.20L2004.19,3218.00M1972.09,3238.53L2004.19,3251.33M1972.09,3271.87L2004.19,3284.67M1972.09,3305.20L2004.19,3318.00M1972.09,3338.53L2004.19,3351.33M1972.09,3371.87L2004.19,3384.67M1972.09,3405.20L2004.19,3418.00M1972.09,3438.53L2004.19,3451.33M1972.09,3471.87L2004.19,3484.67M1972.09,3505.20L2004.19,3518.00M1972.09,3538.53L2004.19,3551.33M1972.09,3571.87L2004.19,3584.67M1972.09,3605.20L2004.19,3618.00M1972.09,3638.53L2004.19,3651.33M1972.09,3671.87L2004.19,3684.67M1972.09,3705.20L2004.19,3718.00M1972.09,3738.53L2004.19,3751.33M1972.09,3771.87L2004.19,3784.67M1972.09,3805.20L2004.19,3818.00M1972.09,3838.53L2004.19,3851.33M1972.09,3871.87L2004.19,3884.67M1972.09,3905.20L2004.19,3918.00M1972.09,3938.53L2004.19,3951.33M1972.09,3971.87L2004.19,3984.67M1972.09,4005.20L2004.19,4018.00M1972.09,4038.53L2004.19,4051.33M1972.09,4071.87L2004.19,4084.67M1972.09,4105.20L2004.19,4118.00M1972.09,4138.53L2004.19,4151.33" stroke="#FFFFFF" stroke-width="3.0" fill="none"/></g><rect x="2004.3899999999999" y="990" width="1.0" height="3148.833333333334" fill="#000"/><rect x="2001.59" y="990" width="3.8" height="14" fill="#000"/><rect x="1969.3899999999999" y="4135.033333333334" width="36.0" height="3.8" fill="#000"/>
<rect x="1111.0" y="934.0" width="19.2" height="79.7" rx="9.6" ry="9.6" fill="#F2F2F2" stroke="#000" stroke-width="3.9"/><path d="M1115.3999999999999,945L1115.3999999999999,1002" stroke="#FFFFFF" stroke-width="2.2" stroke-linecap="round"/>
<rect x="1164.0500000000002" y="934.0" width="19.2" height="79.7" rx="9.6" ry="9.6" fill="#F2F2F2" stroke="#000" stroke-width="3.9"/><path d="M1168.45,945L1168.45,1002" stroke="#FFFFFF" stroke-width="2.2" stroke-linecap="round"/>
<rect x="1231.04" y="934.0" width="19.2" height="79.7" rx="9.6" ry="9.6" fill="#F2F2F2" stroke="#000" stroke-width="3.9"/><path d="M1235.4399999999998,945L1235.4399999999998,1002" stroke="#FFFFFF" stroke-width="2.2" stroke-linecap="round"/>
<rect x="1284.0900000000001" y="934.0" width="19.2" height="79.7" rx="9.6" ry="9.6" fill="#F2F2F2" stroke="#000" stroke-width="3.9"/><path d="M1288.49,945L1288.49,1002" stroke="#FFFFFF" stroke-width="2.2" stroke-linecap="round"/>
<rect x="1351.08" y="934.0" width="19.2" height="79.7" rx="9.6" ry="9.6" fill="#F2F2F2" stroke="#000" stroke-width="3.9"/><path d="M1355.4799999999998,945L1355.4799999999998,1002" stroke="#FFFFFF" stroke-width="2.2" stroke-linecap="round"/>
<rect x="1404.13" y="934.0" width="19.2" height="79.7" rx="9.6" ry="9.6" fill="#F2F2F2" stroke="#000" stroke-width="3.9"/><path d="M1408.53,945L1408.53,1002" stroke="#FFFFFF" stroke-width="2.2" stroke-linecap="round"/>
<rect x="1471.12" y="934.0" width="19.2" height="79.7" rx="9.6" ry="9.6" fill="#F2F2F2" stroke="#000" stroke-width="3.9"/><path d="M1475.5199999999998,945L1475.5199999999998,1002" stroke="#FFFFFF" stroke-width="2.2" stroke-linecap="round"/>
<rect x="1524.17" y="934.0" width="19.2" height="79.7" rx="9.6" ry="9.6" fill="#F2F2F2" stroke="#000" stroke-width="3.9"/><path d="M1528.57,945L1528.57,1002" stroke="#FFFFFF" stroke-width="2.2" stroke-linecap="round"/>
<rect x="1591.16" y="934.0" width="19.2" height="79.7" rx="9.6" ry="9.6" fill="#F2F2F2" stroke="#000" stroke-width="3.9"/><path d="M1595.56,945L1595.56,1002" stroke="#FFFFFF" stroke-width="2.2" stroke-linecap="round"/>
<rect x="1644.2100000000003" y="934.0" width="19.2" height="79.7" rx="9.6" ry="9.6" fill="#F2F2F2" stroke="#000" stroke-width="3.9"/><path d="M1648.6100000000001,945L1648.6100000000001,1002" stroke="#FFFFFF" stroke-width="2.2" stroke-linecap="round"/>
<rect x="1711.2" y="934.0" width="19.2" height="79.7" rx="9.6" ry="9.6" fill="#F2F2F2" stroke="#000" stroke-width="3.9"/><path d="M1715.6,945L1715.6,1002" stroke="#FFFFFF" stroke-width="2.2" stroke-linecap="round"/>
<rect x="1764.2500000000002" y="934.0" width="19.2" height="79.7" rx="9.6" ry="9.6" fill="#F2F2F2" stroke="#000" stroke-width="3.9"/><path d="M1768.65,945L1768.65,1002" stroke="#FFFFFF" stroke-width="2.2" stroke-linecap="round"/>
<rect x="1831.24" y="934.0" width="19.2" height="79.7" rx="9.6" ry="9.6" fill="#F2F2F2" stroke="#000" stroke-width="3.9"/><path d="M1835.6399999999999,945L1835.6399999999999,1002" stroke="#FFFFFF" stroke-width="2.2" stroke-linecap="round"/>
<rect x="1884.2900000000002" y="934.0" width="19.2" height="79.7" rx="9.6" ry="9.6" fill="#F2F2F2" stroke="#000" stroke-width="3.9"/><path d="M1888.69,945L1888.69,1002" stroke="#FFFFFF" stroke-width="2.2" stroke-linecap="round"/>
<rect x="1951.2800000000002" y="934.0" width="19.2" height="79.7" rx="9.6" ry="9.6" fill="#F2F2F2" stroke="#000" stroke-width="3.9"/><path d="M1955.68,945L1955.68,1002" stroke="#FFFFFF" stroke-width="2.2" stroke-linecap="round"/>
<rect x="2004.3300000000004" y="934.0" width="19.2" height="79.7" rx="9.6" ry="9.6" fill="#F2F2F2" stroke="#000" stroke-width="3.9"/><path d="M2008.7300000000002,945L2008.7300000000002,1002" stroke="#FFFFFF" stroke-width="2.2" stroke-linecap="round"/>
<rect x="1130.8" y="2319.6" width="35.5" height="8" fill="#000"/><rect x="1114.55" y="2137.35" width="66.5" height="182.8" rx="13" ry="13" fill="#F2F2F2" stroke="#000" stroke-width="3.5"/><path d="M1121.55,2142.35L1169.05,2142.35" stroke="#FFFFFF" stroke-width="3" stroke-linecap="round"/><path d="M1119.05,2159.35L1119.05,2306.15" stroke="#FFFFFF" stroke-width="3" stroke-linecap="round"/><rect x="1175.8999999999999" y="2152.6" width="6.9" height="145" fill="#000"/><rect x="1119.3" y="2224.0" width="57" height="3.2" fill="#000"/><path d="M1121.50,2156.60L1174.80,2303.60" stroke="#000" stroke-width="21.0" stroke-linecap="round"/><path d="M1121.22,2156.70L1172.47,2298.06" stroke="#FFFFFF" stroke-width="14.0" stroke-linecap="round"/><path d="M1124.48,2159.24L1174.54,2297.31" stroke="#F0F0F0" stroke-width="2.6" stroke-linecap="butt"/><path d="M1128.82,2157.14L1181.10,2301.32" stroke="#000" stroke-width="8.0" stroke-linecap="butt"/><path d="M1170.34,2303.62Q1174.22,2309.34 1178.64,2305.40" fill="none" stroke="#FFFFFF" stroke-width="1.1"/><g transform="translate(0,2313.8)"><text transform="translate(1191.12,0) scale(1.082,1)" font-family="Liberation Sans, sans-serif" font-size="34.5" fill="#000" stroke="#000" stroke-width="0.7">2</text></g>
<rect x="1250.6699999999998" y="2319.6" width="35.5" height="8" fill="#000"/><rect x="1234.4199999999998" y="2137.35" width="66.5" height="182.8" rx="13" ry="13" fill="#F2F2F2" stroke="#000" stroke-width="3.5"/><path d="M1241.4199999999998,2142.35L1288.9199999999998,2142.35" stroke="#FFFFFF" stroke-width="3" stroke-linecap="round"/><path d="M1238.9199999999998,2159.35L1238.9199999999998,2306.15" stroke="#FFFFFF" stroke-width="3" stroke-linecap="round"/><rect x="1295.7699999999998" y="2152.6" width="6.9" height="145" fill="#000"/><rect x="1239.1699999999998" y="2168.5" width="57" height="3.2" fill="#000"/><rect x="1239.1699999999998" y="2205.5" width="57" height="3.2" fill="#000"/><rect x="1239.1699999999998" y="2242.5" width="57" height="3.2" fill="#000"/><rect x="1239.1699999999998" y="2279.5" width="57" height="3.2" fill="#000"/><path d="M1241.37,2156.60L1294.67,2303.60" stroke="#000" stroke-width="21.0" stroke-linecap="round"/><path d="M1241.09,2156.70L1292.34,2298.06" stroke="#FFFFFF" stroke-width="14.0" stroke-linecap="round"/><path d="M1244.35,2159.24L1294.41,2297.31" stroke="#F0F0F0" stroke-width="2.6" stroke-linecap="butt"/><path d="M1248.69,2157.14L1300.97,2301.32" stroke="#000" stroke-width="8.0" stroke-linecap="butt"/><path d="M1290.21,2303.62Q1294.09,2309.34 1298.51,2305.40" fill="none" stroke="#FFFFFF" stroke-width="1.1"/><g transform="translate(0,2313.8)"><text transform="translate(1313.16,0) scale(0.948,1)" font-family="Liberation Sans, sans-serif" font-size="34.5" fill="#000" stroke="#000" stroke-width="0.7">5</text></g>
<rect x="1370.54" y="2452.75" width="35.5" height="8" fill="#000"/><rect x="1354.29" y="2270.5" width="66.5" height="182.8" rx="13" ry="13" fill="#F2F2F2" stroke="#000" stroke-width="3.5"/><path d="M1361.29,2275.5L1408.79,2275.5" stroke="#FFFFFF" stroke-width="3" stroke-linecap="round"/><path d="M1358.79,2292.5L1358.79,2439.3" stroke="#FFFFFF" stroke-width="3" stroke-linecap="round"/><rect x="1415.6399999999999" y="2285.75" width="6.9" height="145" fill="#000"/><rect x="1359.04" y="2357.15" width="57" height="3.2" fill="#000"/><path d="M1361.24,2289.75L1414.54,2436.75" stroke="#000" stroke-width="21.0" stroke-linecap="round"/><path d="M1360.96,2289.85L1412.21,2431.21" stroke="#FFFFFF" stroke-width="14.0" stroke-linecap="round"/><path d="M1364.22,2292.39L1414.28,2430.46" stroke="#F0F0F0" stroke-width="2.6" stroke-linecap="butt"/><path d="M1368.56,2290.29L1420.84,2434.47" stroke="#000" stroke-width="8.0" stroke-linecap="butt"/><path d="M1410.08,2436.77Q1413.96,2442.49 1418.38,2438.55" fill="none" stroke="#FFFFFF" stroke-width="1.1"/><g transform="translate(0,2446.9500000000003)"><text transform="translate(1430.66,0) scale(1.082,1)" font-family="Liberation Sans, sans-serif" font-size="34.5" fill="#000" stroke="#000" stroke-width="0.7">2</text></g>
<rect x="1610.28" y="2452.75" width="35.5" height="8" fill="#000"/><rect x="1594.03" y="2270.5" width="66.5" height="182.8" rx="13" ry="13" fill="#F2F2F2" stroke="#000" stroke-width="3.5"/><path d="M1601.03,2275.5L1648.53,2275.5" stroke="#FFFFFF" stroke-width="3" stroke-linecap="round"/><path d="M1598.53,2292.5L1598.53,2439.3" stroke="#FFFFFF" stroke-width="3" stroke-linecap="round"/><rect x="1655.3799999999999" y="2285.75" width="6.9" height="145" fill="#000"/><rect x="1598.78" y="2326.3166666666666" width="57" height="3.2" fill="#000"/><rect x="1598.78" y="2387.9833333333336" width="57" height="3.2" fill="#000"/><path d="M1600.98,2289.75L1654.28,2436.75" stroke="#000" stroke-width="21.0" stroke-linecap="round"/><path d="M1600.70,2289.85L1651.95,2431.21" stroke="#FFFFFF" stroke-width="14.0" stroke-linecap="round"/><path d="M1603.96,2292.39L1654.02,2430.46" stroke="#F0F0F0" stroke-width="2.6" stroke-linecap="butt"/><path d="M1608.30,2290.29L1660.58,2434.47" stroke="#000" stroke-width="8.0" stroke-linecap="butt"/><path d="M1649.82,2436.77Q1653.70,2442.49 1658.12,2438.55" fill="none" stroke="#FFFFFF" stroke-width="1.1"/><g transform="translate(0,2446.9500000000003)"><text transform="translate(1671.61,0) scale(1.039,1)" font-family="Liberation Sans, sans-serif" font-size="34.5" fill="#000" stroke="#000" stroke-width="0.7">3</text></g>
<rect x="1730.1499999999999" y="2519.6" width="35.5" height="8" fill="#000"/><rect x="1713.8999999999999" y="2337.35" width="66.5" height="182.8" rx="13" ry="13" fill="#F2F2F2" stroke="#000" stroke-width="3.5"/><path d="M1720.8999999999999,2342.35L1768.3999999999999,2342.35" stroke="#FFFFFF" stroke-width="3" stroke-linecap="round"/><path d="M1718.3999999999999,2359.35L1718.3999999999999,2506.15" stroke="#FFFFFF" stroke-width="3" stroke-linecap="round"/><rect x="1775.2499999999998" y="2352.6" width="6.9" height="145" fill="#000"/><rect x="1718.6499999999999" y="2377.75" width="57" height="3.2" fill="#000"/><rect x="1718.6499999999999" y="2424.0" width="57" height="3.2" fill="#000"/><rect x="1718.6499999999999" y="2470.25" width="57" height="3.2" fill="#000"/><path d="M1720.85,2356.60L1774.15,2503.60" stroke="#000" stroke-width="21.0" stroke-linecap="round"/><path d="M1720.57,2356.70L1771.82,2498.06" stroke="#FFFFFF" stroke-width="14.0" stroke-linecap="round"/><path d="M1723.83,2359.24L1773.89,2497.31" stroke="#F0F0F0" stroke-width="2.6" stroke-linecap="butt"/><path d="M1728.17,2357.14L1780.45,2501.32" stroke="#000" stroke-width="8.0" stroke-linecap="butt"/><path d="M1769.69,2503.62Q1773.57,2509.34 1777.99,2505.40" fill="none" stroke="#FFFFFF" stroke-width="1.1"/><g transform="translate(0,2513.8)"><text transform="translate(1791.10,0) scale(1.070,1)" font-family="Liberation Sans, sans-serif" font-size="34.5" fill="#000" stroke="#000" stroke-width="0.7">4</text></g>
<path d="M1843.62,2342.00L1844.28,2343.35L1841.19,2345.28L1838.26,2347.45L1835.51,2349.84L1832.96,2352.43L1830.62,2355.22L1828.50,2358.18L1826.61,2361.30L1824.98,2364.55L1823.61,2367.92L1822.50,2371.39L1821.67,2374.94L1821.12,2378.54L1820.85,2382.17L1820.86,2385.81L1821.16,2389.44L1821.74,2393.04L1822.60,2396.57L1823.74,2400.03L1825.14,2403.40L1826.80,2406.64L1828.71,2409.74L1830.85,2412.68L1833.22,2415.45L1835.79,2418.02L1847.72,2430.50L1868.32,2449.40L1894.32,2473.60L1890.72,2473.60L1889.58,2517.19L1892.57,2515.43L1895.43,2513.44L1898.12,2511.25L1900.65,2508.87L1902.99,2506.30L1905.14,2503.57L1907.07,2500.68L1908.78,2497.66L1910.27,2494.52L1911.51,2491.28L1912.51,2487.95L1913.26,2484.56L1913.76,2481.12L1914.00,2477.65L1913.98,2474.18L1913.70,2470.71L1913.16,2467.28L1912.37,2463.90L1911.32,2460.58L1910.04,2457.35L1908.52,2454.23L1906.77,2451.23L1904.80,2448.37L1902.62,2445.66L1888.92,2432.30L1868.32,2410.80L1840.52,2391.10L1843.62,2391.10Z" fill="#F2F2F2"/><path d="M1844.28,2343.35L1841.19,2345.28L1838.26,2347.45L1835.51,2349.84L1832.96,2352.43L1830.62,2355.22L1828.50,2358.18L1826.61,2361.30L1824.98,2364.55L1823.61,2367.92L1822.50,2371.39L1821.67,2374.94L1821.12,2378.54L1820.85,2382.17L1820.86,2385.81L1821.16,2389.44L1821.74,2393.04L1822.60,2396.57L1823.74,2400.03L1825.14,2403.40L1826.80,2406.64L1828.71,2409.74L1830.85,2412.68L1833.22,2415.45L1835.79,2418.02" fill="none" stroke="#000" stroke-width="3.6"/><path d="M1889.58,2517.19L1892.57,2515.43L1895.43,2513.44L1898.12,2511.25L1900.65,2508.87L1902.99,2506.30L1905.14,2503.57L1907.07,2500.68L1908.78,2497.66L1910.27,2494.52L1911.51,2491.28L1912.51,2487.95L1913.26,2484.56L1913.76,2481.12L1914.00,2477.65L1913.98,2474.18L1913.70,2470.71L1913.16,2467.28L1912.37,2463.90L1911.32,2460.58L1910.04,2457.35L1908.52,2454.23L1906.77,2451.23L1904.80,2448.37L1902.62,2445.66" fill="none" stroke="#000" stroke-width="3.6"/><path d="M1843.62,2341.50L1843.62,2391.10" stroke="#000" stroke-width="3.2"/><path d="M1841.92,2391.10L1868.32,2410.80" stroke="#000" stroke-width="2.2"/><path d="M1888.92,2432.30L1901.42,2446.70" stroke="#000" stroke-width="2.2"/><path d="M1833.32,2420.70L1847.72,2430.50" stroke="#000" stroke-width="4.5"/><path d="M1868.32,2449.40L1894.32,2473.60" stroke="#000" stroke-width="4.5" stroke-linecap="square"/><path d="M1890.72,2342.00L1890.19,2343.14L1893.32,2345.06L1896.28,2347.21L1899.07,2349.59L1901.65,2352.18L1904.03,2354.97L1906.18,2357.94L1908.10,2361.06L1909.76,2364.33L1911.16,2367.72L1912.28,2371.20L1913.14,2374.77L1913.70,2378.39L1913.99,2382.04L1913.98,2385.70L1913.69,2389.36L1913.11,2392.97L1912.25,2396.53L1911.11,2400.02L1909.70,2403.40L1908.03,2406.66L1906.11,2409.78L1903.94,2412.74L1901.56,2415.52L1898.96,2418.10L1840.52,2471.80L1843.62,2471.80L1843.62,2519.50L1844.89,2516.99L1841.92,2515.20L1839.09,2513.20L1836.41,2510.98L1833.91,2508.58L1831.59,2505.99L1829.47,2503.24L1827.56,2500.34L1825.87,2497.31L1824.42,2494.16L1823.20,2490.90L1822.23,2487.57L1821.51,2484.17L1821.04,2480.73L1820.83,2477.27L1820.88,2473.80L1821.19,2470.34L1821.75,2466.91L1822.57,2463.54L1823.64,2460.23L1824.95,2457.02L1826.50,2453.91L1828.27,2450.93L1830.26,2448.08L1832.46,2445.39L1894.32,2390.20L1890.72,2390.20Z" fill="#F2F2F2"/><path d="M1890.19,2343.14L1893.32,2345.06L1896.28,2347.21L1899.07,2349.59L1901.65,2352.18L1904.03,2354.97L1906.18,2357.94L1908.10,2361.06L1909.76,2364.33L1911.16,2367.72L1912.28,2371.20L1913.14,2374.77L1913.70,2378.39L1913.99,2382.04L1913.98,2385.70L1913.69,2389.36L1913.11,2392.97L1912.25,2396.53L1911.11,2400.02L1909.70,2403.40L1908.03,2406.66L1906.11,2409.78L1903.94,2412.74L1901.56,2415.52L1898.96,2418.10" fill="none" stroke="#000" stroke-width="3.6"/><path d="M1844.89,2516.99L1841.92,2515.20L1839.09,2513.20L1836.41,2510.98L1833.91,2508.58L1831.59,2505.99L1829.47,2503.24L1827.56,2500.34L1825.87,2497.31L1824.42,2494.16L1823.20,2490.90L1822.23,2487.57L1821.51,2484.17L1821.04,2480.73L1820.83,2477.27L1820.88,2473.80L1821.19,2470.34L1821.75,2466.91L1822.57,2463.54L1823.64,2460.23L1824.95,2457.02L1826.50,2453.91L1828.27,2450.93L1830.26,2448.08L1832.46,2445.39" fill="none" stroke="#000" stroke-width="3.6"/><path d="M1843.62,2468.50L1843.62,2519.50" stroke="#000" stroke-width="3.2"/><path d="M1839.92,2473.00L1901.02,2420.40" stroke="#000" stroke-width="5.2"/><path d="M1834.22,2444.60L1892.42,2392.00" stroke="#FFFFFF" stroke-width="3"/><path d="M1892.02,2389.40L1895.02,2392.00" stroke="#000" stroke-width="2.2"/><g transform="translate(0,2523.6)"><text transform="translate(1918.32,0) scale(1.029,1)" font-family="Liberation Sans, sans-serif" font-size="34.5" fill="#000" stroke="#000" stroke-width="0.7">1</text></g>
<path d="M1963.49,2475.60L1964.15,2476.95L1961.06,2478.88L1958.13,2481.05L1955.38,2483.44L1952.83,2486.03L1950.49,2488.82L1948.37,2491.78L1946.48,2494.90L1944.85,2498.15L1943.48,2501.52L1942.37,2504.99L1941.54,2508.54L1940.99,2512.14L1940.72,2515.77L1940.73,2519.41L1941.03,2523.04L1941.61,2526.64L1942.47,2530.17L1943.61,2533.63L1945.01,2537.00L1946.67,2540.24L1948.58,2543.34L1950.72,2546.28L1953.09,2549.05L1955.66,2551.62L1967.59,2564.10L1988.19,2583.00L2014.19,2607.20L2010.59,2607.20L2009.45,2650.79L2012.44,2649.03L2015.30,2647.04L2017.99,2644.85L2020.52,2642.47L2022.86,2639.90L2025.01,2637.17L2026.94,2634.28L2028.65,2631.26L2030.14,2628.12L2031.38,2624.88L2032.38,2621.55L2033.13,2618.16L2033.63,2614.72L2033.87,2611.25L2033.85,2607.78L2033.57,2604.31L2033.03,2600.88L2032.24,2597.50L2031.19,2594.18L2029.91,2590.95L2028.39,2587.83L2026.64,2584.83L2024.67,2581.97L2022.49,2579.26L2008.79,2565.90L1988.19,2544.40L1960.39,2524.70L1963.49,2524.70Z" fill="#F2F2F2"/><path d="M1964.15,2476.95L1961.06,2478.88L1958.13,2481.05L1955.38,2483.44L1952.83,2486.03L1950.49,2488.82L1948.37,2491.78L1946.48,2494.90L1944.85,2498.15L1943.48,2501.52L1942.37,2504.99L1941.54,2508.54L1940.99,2512.14L1940.72,2515.77L1940.73,2519.41L1941.03,2523.04L1941.61,2526.64L1942.47,2530.17L1943.61,2533.63L1945.01,2537.00L1946.67,2540.24L1948.58,2543.34L1950.72,2546.28L1953.09,2549.05L1955.66,2551.62" fill="none" stroke="#000" stroke-width="3.6"/><path d="M2009.45,2650.79L2012.44,2649.03L2015.30,2647.04L2017.99,2644.85L2020.52,2642.47L2022.86,2639.90L2025.01,2637.17L2026.94,2634.28L2028.65,2631.26L2030.14,2628.12L2031.38,2624.88L2032.38,2621.55L2033.13,2618.16L2033.63,2614.72L2033.87,2611.25L2033.85,2607.78L2033.57,2604.31L2033.03,2600.88L2032.24,2597.50L2031.19,2594.18L2029.91,2590.95L2028.39,2587.83L2026.64,2584.83L2024.67,2581.97L2022.49,2579.26" fill="none" stroke="#000" stroke-width="3.6"/><path d="M1963.49,2475.10L1963.49,2524.70" stroke="#000" stroke-width="3.2"/><path d="M1961.79,2524.70L1988.19,2544.40" stroke="#000" stroke-width="2.2"/><path d="M2008.79,2565.90L2021.29,2580.30" stroke="#000" stroke-width="2.2"/><path d="M1953.19,2554.30L1967.59,2564.10" stroke="#000" stroke-width="4.5"/><path d="M1988.19,2583.00L2014.19,2607.20" stroke="#000" stroke-width="4.5" stroke-linecap="square"/><path d="M2010.59,2475.60L2010.06,2476.74L2013.19,2478.66L2016.15,2480.81L2018.94,2483.19L2021.52,2485.78L2023.90,2488.57L2026.05,2491.54L2027.97,2494.66L2029.63,2497.93L2031.03,2501.32L2032.15,2504.80L2033.01,2508.37L2033.57,2511.99L2033.86,2515.64L2033.85,2519.30L2033.56,2522.96L2032.98,2526.57L2032.12,2530.13L2030.98,2533.62L2029.57,2537.00L2027.90,2540.26L2025.98,2543.38L2023.81,2546.34L2021.43,2549.12L2018.83,2551.70L1960.39,2605.40L1963.49,2605.40L1963.49,2653.10L1964.76,2650.59L1961.79,2648.80L1958.96,2646.80L1956.28,2644.58L1953.78,2642.18L1951.46,2639.59L1949.34,2636.84L1947.43,2633.94L1945.74,2630.91L1944.29,2627.76L1943.07,2624.50L1942.10,2621.17L1941.38,2617.77L1940.91,2614.33L1940.70,2610.87L1940.75,2607.40L1941.06,2603.94L1941.62,2600.51L1942.44,2597.14L1943.51,2593.83L1944.82,2590.62L1946.37,2587.51L1948.14,2584.53L1950.13,2581.68L1952.33,2578.99L2014.19,2523.80L2010.59,2523.80Z" fill="#F2F2F2"/><path d="M2010.06,2476.74L2013.19,2478.66L2016.15,2480.81L2018.94,2483.19L2021.52,2485.78L2023.90,2488.57L2026.05,2491.54L2027.97,2494.66L2029.63,2497.93L2031.03,2501.32L2032.15,2504.80L2033.01,2508.37L2033.57,2511.99L2033.86,2515.64L2033.85,2519.30L2033.56,2522.96L2032.98,2526.57L2032.12,2530.13L2030.98,2533.62L2029.57,2537.00L2027.90,2540.26L2025.98,2543.38L2023.81,2546.34L2021.43,2549.12L2018.83,2551.70" fill="none" stroke="#000" stroke-width="3.6"/><path d="M1964.76,2650.59L1961.79,2648.80L1958.96,2646.80L1956.28,2644.58L1953.78,2642.18L1951.46,2639.59L1949.34,2636.84L1947.43,2633.94L1945.74,2630.91L1944.29,2627.76L1943.07,2624.50L1942.10,2621.17L1941.38,2617.77L1940.91,2614.33L1940.70,2610.87L1940.75,2607.40L1941.06,2603.94L1941.62,2600.51L1942.44,2597.14L1943.51,2593.83L1944.82,2590.62L1946.37,2587.51L1948.14,2584.53L1950.13,2581.68L1952.33,2578.99" fill="none" stroke="#000" stroke-width="3.6"/><path d="M1963.49,2602.10L1963.49,2653.10" stroke="#000" stroke-width="3.2"/><path d="M1959.79,2606.60L2020.89,2554.00" stroke="#000" stroke-width="5.2"/><path d="M1954.09,2578.20L2012.29,2525.60" stroke="#FFFFFF" stroke-width="3"/><path d="M2011.89,2523.00L2014.89,2525.60" stroke="#000" stroke-width="2.2"/><g transform="translate(0,2657.2)"><text transform="translate(2038.19,0) scale(1.029,1)" font-family="Liberation Sans, sans-serif" font-size="34.5" fill="#000" stroke="#000" stroke-width="0.7">1</text></g>
<g transform="translate(1137.5,3872.066666666667) rotate(90)"><text transform="translate(65.36,0) scale(0.983,1)" font-family="Liberation Sans, sans-serif" font-weight="bold" font-size="53" fill="#000">g</text><text transform="translate(103.21,0) scale(0.835,1)" font-family="Liberation Sans, sans-serif" font-weight="bold" font-size="53" fill="#000">1</text><text transform="translate(132.80,0) scale(0.974,1)" font-family="Liberation Sans, sans-serif" font-weight="bold" font-size="53" fill="#000">p</text><text transform="translate(162.60,0) scale(1.107,1)" font-family="Liberation Sans, sans-serif" font-weight="bold" font-size="53" fill="#000">1</text><text transform="translate(214.71,0) scale(0.829,1)" font-family="Liberation Sans, sans-serif" font-weight="bold" font-size="53" fill="#000">(</text><text transform="translate(233.25,0) scale(0.877,1)" font-family="Liberation Sans, sans-serif" font-weight="bold" font-size="53" fill="#000">W</text><text transform="translate(279.16,0) scale(0.869,1)" font-family="Liberation Sans, sans-serif" font-weight="bold" font-size="53" fill="#000">)</text><text transform="translate(313.59,0) scale(0.821,1)" font-family="Liberation Sans, sans-serif" font-weight="bold" font-size="53" fill="#000">K</text><text transform="translate(349.53,0) scale(0.906,1)" font-family="Liberation Sans, sans-serif" font-weight="bold" font-size="53" fill="#000">n</text><text transform="translate(381.21,0) scale(0.963,1)" font-family="Liberation Sans, sans-serif" font-weight="bold" font-size="53" fill="#000">o</text><text transform="translate(413.84,0) scale(1.027,1)" font-family="Liberation Sans, sans-serif" font-weight="bold" font-size="53" fill="#000">t</text><text transform="translate(437.16,0) scale(0.832,1)" font-family="Liberation Sans, sans-serif" font-weight="bold" font-size="53" fill="#000">t</text><text transform="translate(453.28,0) scale(0.977,1)" font-family="Liberation Sans, sans-serif" font-weight="bold" font-size="53" fill="#000">e</text><text transform="translate(482.94,0) scale(0.992,1)" font-family="Liberation Sans, sans-serif" font-weight="bold" font-size="53" fill="#000">d</text><text transform="translate(533.64,0) scale(0.807,1)" font-family="Liberation Sans, sans-serif" font-weight="bold" font-size="53" fill="#000">E</text><text transform="translate(562.92,0) scale(0.910,1)" font-family="Liberation Sans, sans-serif" font-weight="bold" font-size="53" fill="#000">n</text><text transform="translate(592.71,0) scale(1.052,1)" font-family="Liberation Sans, sans-serif" font-weight="bold" font-size="53" fill="#000">d</text></g>
<g transform="translate(1257.37,3538.7333333333336) rotate(90)"><text transform="translate(65.36,0) scale(0.983,1)" font-family="Liberation Sans, sans-serif" font-weight="bold" font-size="53" fill="#000">g</text><text transform="translate(103.21,0) scale(0.835,1)" font-family="Liberation Sans, sans-serif" font-weight="bold" font-size="53" fill="#000">1</text><text transform="translate(132.80,0) scale(0.974,1)" font-family="Liberation Sans, sans-serif" font-weight="bold" font-size="53" fill="#000">p</text><text transform="translate(164.33,0) scale(1.070,1)" font-family="Liberation Sans, sans-serif" font-weight="bold" font-size="53" fill="#000">2</text><text transform="translate(214.71,0) scale(0.829,1)" font-family="Liberation Sans, sans-serif" font-weight="bold" font-size="53" fill="#000">(</text><text transform="translate(233.25,0) scale(0.877,1)" font-family="Liberation Sans, sans-serif" font-weight="bold" font-size="53" fill="#000">W</text><text transform="translate(279.16,0) scale(0.869,1)" font-family="Liberation Sans, sans-serif" font-weight="bold" font-size="53" fill="#000">)</text><text transform="translate(313.59,0) scale(0.821,1)" font-family="Liberation Sans, sans-serif" font-weight="bold" font-size="53" fill="#000">K</text><text transform="translate(349.53,0) scale(0.906,1)" font-family="Liberation Sans, sans-serif" font-weight="bold" font-size="53" fill="#000">n</text><text transform="translate(381.21,0) scale(0.963,1)" font-family="Liberation Sans, sans-serif" font-weight="bold" font-size="53" fill="#000">o</text><text transform="translate(413.84,0) scale(1.027,1)" font-family="Liberation Sans, sans-serif" font-weight="bold" font-size="53" fill="#000">t</text><text transform="translate(437.16,0) scale(0.832,1)" font-family="Liberation Sans, sans-serif" font-weight="bold" font-size="53" fill="#000">t</text><text transform="translate(453.28,0) scale(0.977,1)" font-family="Liberation Sans, sans-serif" font-weight="bold" font-size="53" fill="#000">e</text><text transform="translate(482.94,0) scale(0.992,1)" font-family="Liberation Sans, sans-serif" font-weight="bold" font-size="53" fill="#000">d</text><text transform="translate(533.64,0) scale(0.807,1)" font-family="Liberation Sans, sans-serif" font-weight="bold" font-size="53" fill="#000">E</text><text transform="translate(562.92,0) scale(0.910,1)" font-family="Liberation Sans, sans-serif" font-weight="bold" font-size="53" fill="#000">n</text><text transform="translate(592.71,0) scale(1.052,1)" font-family="Liberation Sans, sans-serif" font-weight="bold" font-size="53" fill="#000">d</text></g>
<g transform="translate(1377.24,3872.066666666667) rotate(90)"><text transform="translate(65.36,0) scale(0.983,1)" font-family="Liberation Sans, sans-serif" font-weight="bold" font-size="53" fill="#000">g</text><text transform="translate(103.21,0) scale(0.835,1)" font-family="Liberation Sans, sans-serif" font-weight="bold" font-size="53" fill="#000">1</text><text transform="translate(132.80,0) scale(0.974,1)" font-family="Liberation Sans, sans-serif" font-weight="bold" font-size="53" fill="#000">p</text><text transform="translate(165.04,0) scale(1.036,1)" font-family="Liberation Sans, sans-serif" font-weight="bold" font-size="53" fill="#000">3</text><text transform="translate(214.71,0) scale(0.829,1)" font-family="Liberation Sans, sans-serif" font-weight="bold" font-size="53" fill="#000">(</text><text transform="translate(233.25,0) scale(0.877,1)" font-family="Liberation Sans, sans-serif" font-weight="bold" font-size="53" fill="#000">W</text><text transform="translate(279.16,0) scale(0.869,1)" font-family="Liberation Sans, sans-serif" font-weight="bold" font-size="53" fill="#000">)</text><text transform="translate(313.59,0) scale(0.821,1)" font-family="Liberation Sans, sans-serif" font-weight="bold" font-size="53" fill="#000">K</text><text transform="translate(349.53,0) scale(0.906,1)" font-family="Liberation Sans, sans-serif" font-weight="bold" font-size="53" fill="#000">n</text><text transform="translate(381.21,0) scale(0.963,1)" font-family="Liberation Sans, sans-serif" font-weight="bold" font-size="53" fill="#000">o</text><text transform="translate(413.84,0) scale(1.027,1)" font-family="Liberation Sans, sans-serif" font-weight="bold" font-size="53" fill="#000">t</text><text transform="translate(437.16,0) scale(0.832,1)" font-family="Liberation Sans, sans-serif" font-weight="bold" font-size="53" fill="#000">t</text><text transform="translate(453.28,0) scale(0.977,1)" font-family="Liberation Sans, sans-serif" font-weight="bold" font-size="53" fill="#000">e</text><text transform="translate(482.94,0) scale(0.992,1)" font-family="Liberation Sans, sans-serif" font-weight="bold" font-size="53" fill="#000">d</text><text transform="translate(533.64,0) scale(0.807,1)" font-family="Liberation Sans, sans-serif" font-weight="bold" font-size="53" fill="#000">E</text><text transform="translate(562.92,0) scale(0.910,1)" font-family="Liberation Sans, sans-serif" font-weight="bold" font-size="53" fill="#000">n</text><text transform="translate(592.71,0) scale(1.052,1)" font-family="Liberation Sans, sans-serif" font-weight="bold" font-size="53" fill="#000">d</text></g>
<g transform="translate(1497.11,4138.733333333334) rotate(90)"><text transform="translate(65.36,0) scale(0.983,1)" font-family="Liberation Sans, sans-serif" font-weight="bold" font-size="53" fill="#000">g</text><text transform="translate(103.21,0) scale(0.835,1)" font-family="Liberation Sans, sans-serif" font-weight="bold" font-size="53" fill="#000">1</text><text transform="translate(132.80,0) scale(0.974,1)" font-family="Liberation Sans, sans-serif" font-weight="bold" font-size="53" fill="#000">p</text><text transform="translate(165.53,0) scale(0.962,1)" font-family="Liberation Sans, sans-serif" font-weight="bold" font-size="53" fill="#000">4</text><text transform="translate(214.71,0) scale(0.829,1)" font-family="Liberation Sans, sans-serif" font-weight="bold" font-size="53" fill="#000">(</text><text transform="translate(233.25,0) scale(0.877,1)" font-family="Liberation Sans, sans-serif" font-weight="bold" font-size="53" fill="#000">W</text><text transform="translate(279.16,0) scale(0.869,1)" font-family="Liberation Sans, sans-serif" font-weight="bold" font-size="53" fill="#000">)</text><text transform="translate(313.59,0) scale(0.821,1)" font-family="Liberation Sans, sans-serif" font-weight="bold" font-size="53" fill="#000">K</text><text transform="translate(349.53,0) scale(0.906,1)" font-family="Liberation Sans, sans-serif" font-weight="bold" font-size="53" fill="#000">n</text><text transform="translate(381.21,0) scale(0.963,1)" font-family="Liberation Sans, sans-serif" font-weight="bold" font-size="53" fill="#000">o</text><text transform="translate(413.84,0) scale(1.027,1)" font-family="Liberation Sans, sans-serif" font-weight="bold" font-size="53" fill="#000">t</text><text transform="translate(437.16,0) scale(0.832,1)" font-family="Liberation Sans, sans-serif" font-weight="bold" font-size="53" fill="#000">t</text><text transform="translate(453.28,0) scale(0.977,1)" font-family="Liberation Sans, sans-serif" font-weight="bold" font-size="53" fill="#000">e</text><text transform="translate(482.94,0) scale(0.992,1)" font-family="Liberation Sans, sans-serif" font-weight="bold" font-size="53" fill="#000">d</text><text transform="translate(533.64,0) scale(0.807,1)" font-family="Liberation Sans, sans-serif" font-weight="bold" font-size="53" fill="#000">E</text><text transform="translate(562.92,0) scale(0.910,1)" font-family="Liberation Sans, sans-serif" font-weight="bold" font-size="53" fill="#000">n</text><text transform="translate(592.71,0) scale(1.052,1)" font-family="Liberation Sans, sans-serif" font-weight="bold" font-size="53" fill="#000">d</text></g>
<g transform="translate(1616.98,3938.7333333333336) rotate(90)"><text transform="translate(65.36,0) scale(0.983,1)" font-family="Liberation Sans, sans-serif" font-weight="bold" font-size="53" fill="#000">g</text><text transform="translate(103.21,0) scale(0.835,1)" font-family="Liberation Sans, sans-serif" font-weight="bold" font-size="53" fill="#000">1</text><text transform="translate(132.80,0) scale(0.974,1)" font-family="Liberation Sans, sans-serif" font-weight="bold" font-size="53" fill="#000">p</text><text transform="translate(164.61,0) scale(1.035,1)" font-family="Liberation Sans, sans-serif" font-weight="bold" font-size="53" fill="#000">5</text><text transform="translate(214.71,0) scale(0.829,1)" font-family="Liberation Sans, sans-serif" font-weight="bold" font-size="53" fill="#000">(</text><text transform="translate(233.25,0) scale(0.877,1)" font-family="Liberation Sans, sans-serif" font-weight="bold" font-size="53" fill="#000">W</text><text transform="translate(279.16,0) scale(0.869,1)" font-family="Liberation Sans, sans-serif" font-weight="bold" font-size="53" fill="#000">)</text><text transform="translate(313.59,0) scale(0.821,1)" font-family="Liberation Sans, sans-serif" font-weight="bold" font-size="53" fill="#000">K</text><text transform="translate(349.53,0) scale(0.906,1)" font-family="Liberation Sans, sans-serif" font-weight="bold" font-size="53" fill="#000">n</text><text transform="translate(381.21,0) scale(0.963,1)" font-family="Liberation Sans, sans-serif" font-weight="bold" font-size="53" fill="#000">o</text><text transform="translate(413.84,0) scale(1.027,1)" font-family="Liberation Sans, sans-serif" font-weight="bold" font-size="53" fill="#000">t</text><text transform="translate(437.16,0) scale(0.832,1)" font-family="Liberation Sans, sans-serif" font-weight="bold" font-size="53" fill="#000">t</text><text transform="translate(453.28,0) scale(0.977,1)" font-family="Liberation Sans, sans-serif" font-weight="bold" font-size="53" fill="#000">e</text><text transform="translate(482.94,0) scale(0.992,1)" font-family="Liberation Sans, sans-serif" font-weight="bold" font-size="53" fill="#000">d</text><text transform="translate(533.64,0) scale(0.807,1)" font-family="Liberation Sans, sans-serif" font-weight="bold" font-size="53" fill="#000">E</text><text transform="translate(562.92,0) scale(0.910,1)" font-family="Liberation Sans, sans-serif" font-weight="bold" font-size="53" fill="#000">n</text><text transform="translate(592.71,0) scale(1.052,1)" font-family="Liberation Sans, sans-serif" font-weight="bold" font-size="53" fill="#000">d</text></g>
<g transform="translate(1736.85,3672.066666666667) rotate(90)"><text transform="translate(65.36,0) scale(0.983,1)" font-family="Liberation Sans, sans-serif" font-weight="bold" font-size="53" fill="#000">g</text><text transform="translate(103.21,0) scale(0.835,1)" font-family="Liberation Sans, sans-serif" font-weight="bold" font-size="53" fill="#000">1</text><text transform="translate(132.80,0) scale(0.974,1)" font-family="Liberation Sans, sans-serif" font-weight="bold" font-size="53" fill="#000">p</text><text transform="translate(164.23,0) scale(1.066,1)" font-family="Liberation Sans, sans-serif" font-weight="bold" font-size="53" fill="#000">6</text><text transform="translate(214.71,0) scale(0.829,1)" font-family="Liberation Sans, sans-serif" font-weight="bold" font-size="53" fill="#000">(</text><text transform="translate(233.25,0) scale(0.877,1)" font-family="Liberation Sans, sans-serif" font-weight="bold" font-size="53" fill="#000">W</text><text transform="translate(279.16,0) scale(0.869,1)" font-family="Liberation Sans, sans-serif" font-weight="bold" font-size="53" fill="#000">)</text><text transform="translate(313.59,0) scale(0.821,1)" font-family="Liberation Sans, sans-serif" font-weight="bold" font-size="53" fill="#000">K</text><text transform="translate(349.53,0) scale(0.906,1)" font-family="Liberation Sans, sans-serif" font-weight="bold" font-size="53" fill="#000">n</text><text transform="translate(381.21,0) scale(0.963,1)" font-family="Liberation Sans, sans-serif" font-weight="bold" font-size="53" fill="#000">o</text><text transform="translate(413.84,0) scale(1.027,1)" font-family="Liberation Sans, sans-serif" font-weight="bold" font-size="53" fill="#000">t</text><text transform="translate(437.16,0) scale(0.832,1)" font-family="Liberation Sans, sans-serif" font-weight="bold" font-size="53" fill="#000">t</text><text transform="translate(453.28,0) scale(0.977,1)" font-family="Liberation Sans, sans-serif" font-weight="bold" font-size="53" fill="#000">e</text><text transform="translate(482.94,0) scale(0.992,1)" font-family="Liberation Sans, sans-serif" font-weight="bold" font-size="53" fill="#000">d</text><text transform="translate(533.64,0) scale(0.807,1)" font-family="Liberation Sans, sans-serif" font-weight="bold" font-size="53" fill="#000">E</text><text transform="translate(562.92,0) scale(0.910,1)" font-family="Liberation Sans, sans-serif" font-weight="bold" font-size="53" fill="#000">n</text><text transform="translate(592.71,0) scale(1.052,1)" font-family="Liberation Sans, sans-serif" font-weight="bold" font-size="53" fill="#000">d</text></g>
<g transform="translate(1856.72,4138.733333333334) rotate(90)"><text transform="translate(65.36,0) scale(0.983,1)" font-family="Liberation Sans, sans-serif" font-weight="bold" font-size="53" fill="#000">g</text><text transform="translate(103.21,0) scale(0.835,1)" font-family="Liberation Sans, sans-serif" font-weight="bold" font-size="53" fill="#000">1</text><text transform="translate(132.80,0) scale(0.974,1)" font-family="Liberation Sans, sans-serif" font-weight="bold" font-size="53" fill="#000">p</text><text transform="translate(163.80,0) scale(1.098,1)" font-family="Liberation Sans, sans-serif" font-weight="bold" font-size="53" fill="#000">7</text><text transform="translate(214.71,0) scale(0.829,1)" font-family="Liberation Sans, sans-serif" font-weight="bold" font-size="53" fill="#000">(</text><text transform="translate(233.25,0) scale(0.877,1)" font-family="Liberation Sans, sans-serif" font-weight="bold" font-size="53" fill="#000">W</text><text transform="translate(279.16,0) scale(0.869,1)" font-family="Liberation Sans, sans-serif" font-weight="bold" font-size="53" fill="#000">)</text><text transform="translate(313.59,0) scale(0.821,1)" font-family="Liberation Sans, sans-serif" font-weight="bold" font-size="53" fill="#000">K</text><text transform="translate(349.53,0) scale(0.906,1)" font-family="Liberation Sans, sans-serif" font-weight="bold" font-size="53" fill="#000">n</text><text transform="translate(381.21,0) scale(0.963,1)" font-family="Liberation Sans, sans-serif" font-weight="bold" font-size="53" fill="#000">o</text><text transform="translate(413.84,0) scale(1.027,1)" font-family="Liberation Sans, sans-serif" font-weight="bold" font-size="53" fill="#000">t</text><text transform="translate(437.16,0) scale(0.832,1)" font-family="Liberation Sans, sans-serif" font-weight="bold" font-size="53" fill="#000">t</text><text transform="translate(453.28,0) scale(0.977,1)" font-family="Liberation Sans, sans-serif" font-weight="bold" font-size="53" fill="#000">e</text><text transform="translate(482.94,0) scale(0.992,1)" font-family="Liberation Sans, sans-serif" font-weight="bold" font-size="53" fill="#000">d</text><text transform="translate(533.64,0) scale(0.807,1)" font-family="Liberation Sans, sans-serif" font-weight="bold" font-size="53" fill="#000">E</text><text transform="translate(562.92,0) scale(0.910,1)" font-family="Liberation Sans, sans-serif" font-weight="bold" font-size="53" fill="#000">n</text><text transform="translate(592.71,0) scale(1.052,1)" font-family="Liberation Sans, sans-serif" font-weight="bold" font-size="53" fill="#000">d</text></g>
<g transform="translate(1976.59,4138.733333333334) rotate(90)"><text transform="translate(65.36,0) scale(0.983,1)" font-family="Liberation Sans, sans-serif" font-weight="bold" font-size="53" fill="#000">g</text><text transform="translate(103.21,0) scale(0.835,1)" font-family="Liberation Sans, sans-serif" font-weight="bold" font-size="53" fill="#000">1</text><text transform="translate(132.80,0) scale(0.974,1)" font-family="Liberation Sans, sans-serif" font-weight="bold" font-size="53" fill="#000">p</text><text transform="translate(164.54,0) scale(1.043,1)" font-family="Liberation Sans, sans-serif" font-weight="bold" font-size="53" fill="#000">8</text><text transform="translate(214.71,0) scale(0.829,1)" font-family="Liberation Sans, sans-serif" font-weight="bold" font-size="53" fill="#000">(</text><text transform="translate(233.25,0) scale(0.877,1)" font-family="Liberation Sans, sans-serif" font-weight="bold" font-size="53" fill="#000">W</text><text transform="translate(279.16,0) scale(0.869,1)" font-family="Liberation Sans, sans-serif" font-weight="bold" font-size="53" fill="#000">)</text><text transform="translate(313.59,0) scale(0.821,1)" font-family="Liberation Sans, sans-serif" font-weight="bold" font-size="53" fill="#000">K</text><text transform="translate(349.53,0) scale(0.906,1)" font-family="Liberation Sans, sans-serif" font-weight="bold" font-size="53" fill="#000">n</text><text transform="translate(381.21,0) scale(0.963,1)" font-family="Liberation Sans, sans-serif" font-weight="bold" font-size="53" fill="#000">o</text><text transform="translate(413.84,0) scale(1.027,1)" font-family="Liberation Sans, sans-serif" font-weight="bold" font-size="53" fill="#000">t</text><text transform="translate(437.16,0) scale(0.832,1)" font-family="Liberation Sans, sans-serif" font-weight="bold" font-size="53" fill="#000">t</text><text transform="translate(453.28,0) scale(0.977,1)" font-family="Liberation Sans, sans-serif" font-weight="bold" font-size="53" fill="#000">e</text><text transform="translate(482.94,0) scale(0.992,1)" font-family="Liberation Sans, sans-serif" font-weight="bold" font-size="53" fill="#000">d</text><text transform="translate(533.64,0) scale(0.807,1)" font-family="Liberation Sans, sans-serif" font-weight="bold" font-size="53" fill="#000">E</text><text transform="translate(562.92,0) scale(0.910,1)" font-family="Liberation Sans, sans-serif" font-weight="bold" font-size="53" fill="#000">n</text><text transform="translate(592.71,0) scale(1.052,1)" font-family="Liberation Sans, sans-serif" font-weight="bold" font-size="53" fill="#000">d</text></g>
</svg></body></html>
